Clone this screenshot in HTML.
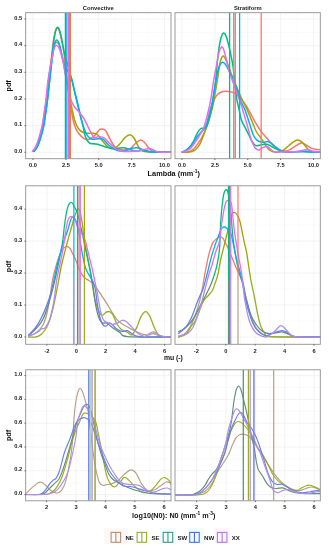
<!DOCTYPE html><html><head><meta charset="utf-8"><title>pdf</title><style>html,body{margin:0;padding:0;background:#fff}svg{display:block}</style></head><body><svg width="329" height="550" viewBox="0 0 329 550">
<rect width="329" height="550" fill="#fff"/>
<clipPath id="cp00"><rect x="25.70" y="12.70" width="145.30" height="146.00"/></clipPath>
<g clip-path="url(#cp00)">
<path d="M16.56 12.70V158.70M49.44 12.70V158.70M82.31 12.70V158.70M115.19 12.70V158.70M148.06 12.70V158.70M180.94 12.70V158.70M25.70 165.63H171.00M25.70 138.97H171.00M25.70 112.31H171.00M25.70 85.65H171.00M25.70 58.99H171.00M25.70 32.33H171.00M25.70 5.67H171.00" stroke="#f4f4f4" stroke-width="0.5" fill="none"/>
<path d="M33.00 12.70V158.70M65.88 12.70V158.70M98.75 12.70V158.70M131.62 12.70V158.70M164.50 12.70V158.70M25.70 152.30H171.00M25.70 125.64H171.00M25.70 98.98H171.00M25.70 72.32H171.00M25.70 45.66H171.00M25.70 19.00H171.00" stroke="#ededed" stroke-width="0.65" fill="none"/>
<path d="M33.00 151.20 C33.37 150.77 34.42 149.87 35.20 148.60 C35.98 147.33 36.87 145.77 37.70 143.60 C38.53 141.43 39.37 138.53 40.20 135.60 C41.03 132.67 41.95 129.77 42.70 126.00 C43.45 122.23 44.07 117.33 44.70 113.00 C45.33 108.67 45.83 105.50 46.50 100.00 C47.17 94.50 47.90 86.83 48.70 80.00 C49.50 73.17 50.55 65.27 51.30 59.00 C52.05 52.73 52.60 46.73 53.20 42.40 C53.80 38.07 54.40 35.23 54.90 33.00 C55.40 30.77 55.80 29.83 56.20 29.00 C56.60 28.17 56.90 27.97 57.30 28.00 C57.70 28.03 58.15 28.33 58.60 29.20 C59.05 30.07 59.43 30.97 60.00 33.20 C60.57 35.43 61.33 39.22 62.00 42.60 C62.67 45.98 63.17 47.27 64.00 53.50 C64.83 59.73 65.78 70.42 67.00 80.00 C68.22 89.58 70.03 103.42 71.30 111.00 C72.57 118.58 73.45 121.87 74.60 125.50 C75.75 129.13 76.68 130.67 78.20 132.80 C79.72 134.93 81.87 137.23 83.70 138.30 C85.53 139.37 87.37 139.65 89.20 139.20 C91.03 138.75 93.03 137.13 94.70 135.60 C96.37 134.07 98.05 131.10 99.20 130.00 C100.35 128.90 100.80 129.08 101.60 129.00 C102.40 128.92 103.18 129.00 104.00 129.50 C104.82 130.00 105.33 130.08 106.50 132.00 C107.67 133.92 109.47 138.37 111.00 141.00 C112.53 143.63 114.20 146.37 115.70 147.80 C117.20 149.23 118.28 149.27 120.00 149.60 C121.72 149.93 124.17 150.07 126.00 149.80 C127.83 149.53 129.33 149.13 131.00 148.00 C132.67 146.87 134.35 144.33 136.00 143.00 C137.65 141.67 139.40 140.00 140.90 140.00 C142.40 140.00 143.65 141.58 145.00 143.00 C146.35 144.42 147.83 147.20 149.00 148.50 C150.17 149.80 150.67 150.20 152.00 150.80 C153.33 151.40 153.83 151.85 157.00 152.10 C160.17 152.35 168.67 152.27 171.00 152.30" stroke="#F8766D" stroke-width="1.50" fill="none" stroke-linejoin="round" stroke-linecap="round"/>
<path d="M32.80 151.20 C33.17 150.77 34.22 149.87 35.00 148.60 C35.78 147.33 36.67 145.77 37.50 143.60 C38.33 141.43 39.17 138.53 40.00 135.60 C40.83 132.67 41.75 129.77 42.50 126.00 C43.25 122.23 43.87 117.33 44.50 113.00 C45.13 108.67 45.63 105.50 46.30 100.00 C46.97 94.50 47.65 86.67 48.50 80.00 C49.35 73.33 50.57 65.50 51.40 60.00 C52.23 54.50 52.87 49.80 53.50 47.00 C54.13 44.20 54.62 43.97 55.20 43.20 C55.78 42.43 56.42 42.27 57.00 42.40 C57.58 42.53 58.12 42.90 58.70 44.00 C59.28 45.10 59.73 46.00 60.50 49.00 C61.27 52.00 62.22 56.50 63.30 62.00 C64.38 67.50 65.67 74.75 67.00 82.00 C68.33 89.25 70.03 99.17 71.30 105.50 C72.57 111.83 73.45 116.20 74.60 120.00 C75.75 123.80 76.68 126.17 78.20 128.30 C79.72 130.43 81.57 131.98 83.70 132.80 C85.83 133.62 88.87 133.03 91.00 133.20 C93.13 133.37 94.83 132.80 96.50 133.80 C98.17 134.80 99.33 137.23 101.00 139.20 C102.67 141.17 104.88 144.05 106.50 145.60 C108.12 147.15 109.28 148.10 110.70 148.50 C112.12 148.90 113.45 148.78 115.00 148.00 C116.55 147.22 118.33 145.55 120.00 143.80 C121.67 142.05 123.33 139.00 125.00 137.50 C126.67 136.00 128.50 134.72 130.00 134.80 C131.50 134.88 132.50 135.85 134.00 138.00 C135.50 140.15 137.50 145.53 139.00 147.70 C140.50 149.87 141.17 150.28 143.00 151.00 C144.83 151.72 145.33 151.78 150.00 152.00 C154.67 152.22 167.50 152.25 171.00 152.30" stroke="#A3A500" stroke-width="1.50" fill="none" stroke-linejoin="round" stroke-linecap="round"/>
<path d="M34.00 151.20 C34.37 150.77 35.42 149.87 36.20 148.60 C36.98 147.33 37.87 145.77 38.70 143.60 C39.53 141.43 40.37 138.53 41.20 135.60 C42.03 132.67 42.95 129.77 43.70 126.00 C44.45 122.23 45.07 117.33 45.70 113.00 C46.33 108.67 46.83 105.50 47.50 100.00 C48.17 94.50 48.97 87.00 49.70 80.00 C50.43 73.00 51.25 64.27 51.90 58.00 C52.55 51.73 53.05 46.60 53.60 42.40 C54.15 38.20 54.73 35.10 55.20 32.80 C55.67 30.50 56.00 29.52 56.40 28.60 C56.80 27.68 57.18 27.30 57.60 27.30 C58.02 27.30 58.45 27.68 58.90 28.60 C59.35 29.52 59.72 30.50 60.30 32.80 C60.88 35.10 61.72 38.98 62.40 42.40 C63.08 45.82 63.47 49.37 64.40 53.30 C65.33 57.23 66.83 61.85 68.00 66.00 C69.17 70.15 70.07 72.87 71.40 78.20 C72.73 83.53 74.57 91.93 76.00 98.00 C77.43 104.07 78.83 109.93 80.00 114.60 C81.17 119.27 82.08 122.27 83.00 126.00 C83.92 129.73 84.47 134.18 85.50 137.00 C86.53 139.82 87.82 141.77 89.20 142.90 C90.58 144.03 92.13 143.50 93.80 143.80 C95.47 144.10 97.23 144.17 99.20 144.70 C101.17 145.23 103.30 146.35 105.60 147.00 C107.90 147.65 110.93 148.38 113.00 148.60 C115.07 148.82 116.23 148.45 118.00 148.30 C119.77 148.15 121.77 147.53 123.60 147.70 C125.43 147.87 126.85 148.75 129.00 149.30 C131.15 149.85 134.33 150.78 136.50 151.00 C138.67 151.22 140.08 150.52 142.00 150.60 C143.92 150.68 145.67 151.23 148.00 151.50 C150.33 151.77 152.17 152.07 156.00 152.20 C159.83 152.33 168.50 152.28 171.00 152.30" stroke="#00BF7D" stroke-width="1.50" fill="none" stroke-linejoin="round" stroke-linecap="round"/>
<path d="M34.00 151.20 C34.37 150.77 35.42 149.87 36.20 148.60 C36.98 147.33 37.87 145.77 38.70 143.60 C39.53 141.43 40.37 138.53 41.20 135.60 C42.03 132.67 42.95 129.77 43.70 126.00 C44.45 122.23 45.07 117.33 45.70 113.00 C46.33 108.67 46.83 105.50 47.50 100.00 C48.17 94.50 48.83 87.50 49.70 80.00 C50.57 72.50 51.95 60.75 52.70 55.00 C53.45 49.25 53.73 47.80 54.20 45.50 C54.67 43.20 55.07 42.12 55.50 41.20 C55.93 40.28 56.35 39.95 56.80 40.00 C57.25 40.05 57.67 40.42 58.20 41.50 C58.73 42.58 59.03 42.82 60.00 46.50 C60.97 50.18 62.10 58.32 64.00 63.60 C65.90 68.88 69.57 73.33 71.40 78.20 C73.23 83.07 73.78 87.93 75.00 92.80 C76.22 97.67 77.62 102.87 78.70 107.40 C79.78 111.93 80.67 116.67 81.50 120.00 C82.33 123.33 82.72 124.80 83.70 127.40 C84.68 130.00 86.02 133.63 87.40 135.60 C88.78 137.57 90.18 138.68 92.00 139.20 C93.82 139.72 96.48 138.70 98.30 138.70 C100.12 138.70 101.22 138.20 102.90 139.20 C104.58 140.20 106.43 143.02 108.40 144.70 C110.37 146.38 112.77 148.25 114.70 149.30 C116.63 150.35 118.12 150.80 120.00 151.00 C121.88 151.20 124.00 150.92 126.00 150.50 C128.00 150.08 130.25 148.97 132.00 148.50 C133.75 148.03 135.00 147.62 136.50 147.70 C138.00 147.78 139.42 148.53 141.00 149.00 C142.58 149.47 144.17 150.03 146.00 150.50 C147.83 150.97 149.67 151.50 152.00 151.80 C154.33 152.10 156.83 152.22 160.00 152.30 C163.17 152.38 169.17 152.30 171.00 152.30" stroke="#00B0F6" stroke-width="1.50" fill="none" stroke-linejoin="round" stroke-linecap="round"/>
<path d="M32.40 151.20 C32.77 150.77 33.82 149.87 34.60 148.60 C35.38 147.33 36.27 145.77 37.10 143.60 C37.93 141.43 38.77 138.53 39.60 135.60 C40.43 132.67 41.35 129.77 42.10 126.00 C42.85 122.23 43.47 117.33 44.10 113.00 C44.73 108.67 45.23 105.50 45.90 100.00 C46.57 94.50 47.25 86.17 48.10 80.00 C48.95 73.83 50.20 67.33 51.00 63.00 C51.80 58.67 52.40 56.33 52.90 54.00 C53.40 51.67 53.58 50.33 54.00 49.00 C54.42 47.67 54.93 46.60 55.40 46.00 C55.87 45.40 56.28 45.23 56.80 45.40 C57.32 45.57 57.88 45.90 58.50 47.00 C59.12 48.10 59.72 49.50 60.50 52.00 C61.28 54.50 62.28 57.67 63.20 62.00 C64.12 66.33 64.78 71.95 66.00 78.00 C67.22 84.05 69.13 93.55 70.50 98.30 C71.87 103.05 72.92 104.38 74.20 106.50 C75.48 108.62 76.62 109.05 78.20 111.00 C79.78 112.95 81.87 115.17 83.70 118.20 C85.53 121.23 87.52 126.00 89.20 129.20 C90.88 132.40 92.58 136.05 93.80 137.40 C95.02 138.75 95.60 137.45 96.50 137.30 C97.40 137.15 97.83 136.33 99.20 136.50 C100.57 136.67 102.87 137.08 104.70 138.30 C106.53 139.52 108.22 141.97 110.20 143.80 C112.18 145.63 114.63 148.05 116.60 149.30 C118.57 150.55 119.77 150.93 122.00 151.30 C124.23 151.67 127.33 151.55 130.00 151.50 C132.67 151.45 135.67 151.33 138.00 151.00 C140.33 150.67 142.10 149.92 144.00 149.50 C145.90 149.08 147.73 148.37 149.40 148.50 C151.07 148.63 152.40 149.72 154.00 150.30 C155.60 150.88 156.17 151.67 159.00 152.00 C161.83 152.33 169.00 152.25 171.00 152.30" stroke="#E76BF3" stroke-width="1.50" fill="none" stroke-linejoin="round" stroke-linecap="round"/>
<path d="M70.40 12.70V158.70" stroke="#e8802a" stroke-width="1.20"/>
<path d="M69.60 12.70V158.70" stroke="#dc8a1e" stroke-width="1.20"/>
<path d="M65.50 12.70V158.70" stroke="#00BF7D" stroke-width="1.50"/>
<path d="M66.90 12.70V158.70" stroke="#00B0F6" stroke-width="1.30"/>
<path d="M68.60 12.70V158.70" stroke="#E76BF3" stroke-width="1.20"/>
</g>
<rect x="25.70" y="12.70" width="145.30" height="146.00" fill="none" stroke="#909090" stroke-width="0.9"/>
<path d="M33.00 158.70v1.3" stroke="#333" stroke-width="0.7"/>
<text x="33.00" y="167.20" font-size="5.7" text-anchor="middle" fill="#1a1a1a" font-family="Liberation Sans, sans-serif" font-weight="bold">0.0</text>
<path d="M65.88 158.70v1.3" stroke="#333" stroke-width="0.7"/>
<text x="65.88" y="167.20" font-size="5.7" text-anchor="middle" fill="#1a1a1a" font-family="Liberation Sans, sans-serif" font-weight="bold">2.5</text>
<path d="M98.75 158.70v1.3" stroke="#333" stroke-width="0.7"/>
<text x="98.75" y="167.20" font-size="5.7" text-anchor="middle" fill="#1a1a1a" font-family="Liberation Sans, sans-serif" font-weight="bold">5.0</text>
<path d="M131.62 158.70v1.3" stroke="#333" stroke-width="0.7"/>
<text x="131.62" y="167.20" font-size="5.7" text-anchor="middle" fill="#1a1a1a" font-family="Liberation Sans, sans-serif" font-weight="bold">7.5</text>
<path d="M164.50 158.70v1.3" stroke="#333" stroke-width="0.7"/>
<text x="164.50" y="167.20" font-size="5.7" text-anchor="middle" fill="#1a1a1a" font-family="Liberation Sans, sans-serif" font-weight="bold">10.0</text>
<path d="M25.70 152.30h-1.3" stroke="#333" stroke-width="0.7"/>
<text x="22.20" y="152.90" font-size="5.7" text-anchor="end" fill="#1a1a1a" font-family="Liberation Sans, sans-serif" font-weight="bold">0.0</text>
<path d="M25.70 125.64h-1.3" stroke="#333" stroke-width="0.7"/>
<text x="22.20" y="126.24" font-size="5.7" text-anchor="end" fill="#1a1a1a" font-family="Liberation Sans, sans-serif" font-weight="bold">0.1</text>
<path d="M25.70 98.98h-1.3" stroke="#333" stroke-width="0.7"/>
<text x="22.20" y="99.58" font-size="5.7" text-anchor="end" fill="#1a1a1a" font-family="Liberation Sans, sans-serif" font-weight="bold">0.2</text>
<path d="M25.70 72.32h-1.3" stroke="#333" stroke-width="0.7"/>
<text x="22.20" y="72.92" font-size="5.7" text-anchor="end" fill="#1a1a1a" font-family="Liberation Sans, sans-serif" font-weight="bold">0.3</text>
<path d="M25.70 45.66h-1.3" stroke="#333" stroke-width="0.7"/>
<text x="22.20" y="46.26" font-size="5.7" text-anchor="end" fill="#1a1a1a" font-family="Liberation Sans, sans-serif" font-weight="bold">0.4</text>
<path d="M25.70 19.00h-1.3" stroke="#333" stroke-width="0.7"/>
<text x="22.20" y="19.60" font-size="5.7" text-anchor="end" fill="#1a1a1a" font-family="Liberation Sans, sans-serif" font-weight="bold">0.5</text>
<clipPath id="cp01"><rect x="175.00" y="12.70" width="145.30" height="146.00"/></clipPath>
<g clip-path="url(#cp01)">
<path d="M165.56 12.70V158.70M198.44 12.70V158.70M231.31 12.70V158.70M264.19 12.70V158.70M297.06 12.70V158.70M329.94 12.70V158.70M175.00 165.63H320.30M175.00 138.97H320.30M175.00 112.31H320.30M175.00 85.65H320.30M175.00 58.99H320.30M175.00 32.33H320.30M175.00 5.67H320.30" stroke="#f4f4f4" stroke-width="0.5" fill="none"/>
<path d="M182.00 12.70V158.70M214.88 12.70V158.70M247.75 12.70V158.70M280.62 12.70V158.70M313.50 12.70V158.70M175.00 152.30H320.30M175.00 125.64H320.30M175.00 98.98H320.30M175.00 72.32H320.30M175.00 45.66H320.30M175.00 19.00H320.30" stroke="#ededed" stroke-width="0.65" fill="none"/>
<path d="M182.30 152.20 C183.22 152.17 185.98 152.48 187.80 152.00 C189.62 151.52 191.53 150.67 193.20 149.30 C194.87 147.93 196.27 145.93 197.80 143.80 C199.33 141.67 201.03 139.05 202.40 136.50 C203.77 133.95 204.98 131.92 206.00 128.50 C207.02 125.08 207.78 119.25 208.50 116.00 C209.22 112.75 209.43 111.50 210.30 109.00 C211.17 106.50 212.52 103.40 213.70 101.00 C214.88 98.60 215.88 96.18 217.40 94.60 C218.92 93.02 220.98 92.02 222.80 91.50 C224.62 90.98 226.17 91.18 228.30 91.50 C230.43 91.82 233.77 92.57 235.60 93.40 C237.43 94.23 237.90 94.98 239.30 96.50 C240.70 98.02 242.28 100.00 244.00 102.50 C245.72 105.00 247.77 108.27 249.60 111.50 C251.43 114.73 253.02 118.50 255.00 121.90 C256.98 125.30 259.50 129.17 261.50 131.90 C263.50 134.63 265.03 136.02 267.00 138.30 C268.97 140.58 271.03 143.62 273.30 145.60 C275.57 147.58 278.48 149.30 280.60 150.20 C282.72 151.10 284.27 151.20 286.00 151.00 C287.73 150.80 289.50 149.77 291.00 149.00 C292.50 148.23 293.33 147.38 295.00 146.40 C296.67 145.42 299.32 143.45 301.00 143.10 C302.68 142.75 303.58 143.55 305.10 144.30 C306.62 145.05 308.42 146.77 310.10 147.60 C311.78 148.43 313.50 148.93 315.20 149.30 C316.90 149.67 319.45 149.72 320.30 149.80" stroke="#F8766D" stroke-width="1.50" fill="none" stroke-linejoin="round" stroke-linecap="round"/>
<path d="M182.30 152.20 C183.52 152.17 187.48 152.33 189.60 152.00 C191.72 151.67 193.33 151.42 195.00 150.20 C196.67 148.98 198.37 146.68 199.60 144.70 C200.83 142.72 201.48 140.58 202.40 138.30 C203.32 136.02 204.20 133.43 205.10 131.00 C206.00 128.57 206.88 126.43 207.80 123.70 C208.72 120.97 209.68 117.95 210.60 114.60 C211.52 111.25 212.17 109.37 213.30 103.60 C214.43 97.83 216.28 86.77 217.40 80.00 C218.52 73.23 219.10 66.98 220.00 63.00 C220.90 59.02 221.88 56.77 222.80 56.10 C223.72 55.43 224.58 57.42 225.50 59.00 C226.42 60.58 227.28 62.98 228.30 65.60 C229.32 68.22 230.12 70.93 231.60 74.70 C233.08 78.47 235.42 83.98 237.20 88.20 C238.98 92.42 240.68 96.52 242.30 100.00 C243.92 103.48 245.23 105.45 246.90 109.10 C248.57 112.75 250.78 118.25 252.30 121.90 C253.82 125.55 254.63 128.42 256.00 131.00 C257.37 133.58 259.13 135.42 260.50 137.40 C261.87 139.38 262.98 141.07 264.20 142.90 C265.42 144.73 266.43 146.95 267.80 148.40 C269.17 149.85 270.57 151.00 272.40 151.60 C274.23 152.20 276.97 152.25 278.80 152.00 C280.63 151.75 281.80 151.10 283.40 150.10 C285.00 149.10 286.73 147.38 288.40 146.00 C290.07 144.62 291.87 142.78 293.40 141.80 C294.93 140.82 296.20 140.10 297.60 140.10 C299.00 140.10 300.40 140.68 301.80 141.80 C303.20 142.92 304.62 145.27 306.00 146.80 C307.38 148.33 308.77 150.13 310.10 151.00 C311.43 151.87 312.30 151.80 314.00 152.00 C315.70 152.20 319.25 152.17 320.30 152.20" stroke="#A3A500" stroke-width="1.50" fill="none" stroke-linejoin="round" stroke-linecap="round"/>
<path d="M182.30 152.00 C183.22 151.55 185.98 150.97 187.80 149.30 C189.62 147.63 191.68 144.58 193.20 142.00 C194.72 139.42 195.68 136.00 196.90 133.80 C198.12 131.60 199.43 129.72 200.50 128.80 C201.57 127.88 202.38 128.53 203.30 128.30 C204.22 128.07 205.08 128.78 206.00 127.40 C206.92 126.02 207.85 123.40 208.80 120.00 C209.75 116.60 210.90 111.00 211.70 107.00 C212.50 103.00 212.93 100.50 213.60 96.00 C214.27 91.50 214.98 86.58 215.70 80.00 C216.42 73.42 217.18 62.83 217.90 56.50 C218.62 50.17 219.32 45.58 220.00 42.00 C220.68 38.42 221.37 36.48 222.00 35.00 C222.63 33.52 223.13 32.93 223.80 33.10 C224.47 33.27 225.10 33.62 226.00 36.00 C226.90 38.38 228.05 42.47 229.20 47.40 C230.35 52.33 231.68 57.27 232.90 65.60 C234.12 73.93 235.55 90.45 236.50 97.40 C237.45 104.35 237.78 103.53 238.60 107.30 C239.42 111.07 240.33 116.65 241.40 120.00 C242.47 123.35 243.78 124.95 245.00 127.40 C246.22 129.85 247.48 132.27 248.70 134.70 C249.92 137.13 251.08 140.18 252.30 142.00 C253.52 143.82 254.47 145.15 256.00 145.60 C257.53 146.05 259.67 144.93 261.50 144.70 C263.33 144.47 265.33 143.90 267.00 144.20 C268.67 144.50 270.00 145.72 271.50 146.50 C273.00 147.28 274.18 148.05 276.00 148.90 C277.82 149.75 280.07 151.08 282.40 151.60 C284.73 152.12 287.07 152.00 290.00 152.00 C292.93 152.00 297.00 151.60 300.00 151.60 C303.00 151.60 304.62 151.90 308.00 152.00 C311.38 152.10 318.25 152.17 320.30 152.20" stroke="#00BF7D" stroke-width="1.50" fill="none" stroke-linejoin="round" stroke-linecap="round"/>
<path d="M182.30 152.00 C182.92 151.70 184.48 151.27 186.00 150.20 C187.52 149.13 189.73 147.58 191.40 145.60 C193.07 143.62 194.48 140.43 196.00 138.30 C197.52 136.17 198.98 134.62 200.50 132.80 C202.02 130.98 203.68 130.03 205.10 127.40 C206.52 124.77 207.82 121.07 209.00 117.00 C210.18 112.93 211.37 107.17 212.20 103.00 C213.03 98.83 213.32 96.00 214.00 92.00 C214.68 88.00 215.58 82.83 216.30 79.00 C217.02 75.17 217.60 71.53 218.30 69.00 C219.00 66.47 219.75 64.92 220.50 63.80 C221.25 62.68 221.97 62.18 222.80 62.30 C223.63 62.42 224.43 63.05 225.50 64.50 C226.57 65.95 227.97 68.67 229.20 71.00 C230.43 73.33 231.68 75.67 232.90 78.50 C234.12 81.33 235.27 84.42 236.50 88.00 C237.73 91.58 238.88 96.33 240.30 100.00 C241.72 103.67 243.45 106.05 245.00 110.00 C246.55 113.95 248.23 119.58 249.60 123.70 C250.97 127.82 251.98 131.97 253.20 134.70 C254.42 137.43 255.37 138.83 256.90 140.10 C258.43 141.37 260.58 142.05 262.40 142.30 C264.22 142.55 266.28 141.42 267.80 141.60 C269.32 141.78 270.13 142.43 271.50 143.40 C272.87 144.37 274.33 146.12 276.00 147.40 C277.67 148.68 279.50 150.33 281.50 151.10 C283.50 151.87 285.25 151.90 288.00 152.00 C290.75 152.10 295.00 151.82 298.00 151.70 C301.00 151.58 303.67 151.25 306.00 151.30 C308.33 151.35 309.62 151.85 312.00 152.00 C314.38 152.15 318.92 152.17 320.30 152.20" stroke="#00B0F6" stroke-width="1.50" fill="none" stroke-linejoin="round" stroke-linecap="round"/>
<path d="M182.30 152.00 C182.92 151.83 184.63 151.60 186.00 151.00 C187.37 150.40 188.83 150.07 190.50 148.40 C192.17 146.73 194.33 143.43 196.00 141.00 C197.67 138.57 199.17 136.13 200.50 133.80 C201.83 131.47 202.83 130.22 204.00 127.00 C205.17 123.78 206.37 119.08 207.50 114.50 C208.63 109.92 209.77 105.25 210.80 99.50 C211.83 93.75 212.75 85.65 213.70 80.00 C214.65 74.35 215.65 70.10 216.50 65.60 C217.35 61.10 217.98 56.10 218.80 53.00 C219.62 49.90 220.62 47.67 221.40 47.00 C222.18 46.33 222.80 47.42 223.50 49.00 C224.20 50.58 224.60 52.67 225.60 56.50 C226.60 60.33 228.13 67.32 229.50 72.00 C230.87 76.68 232.52 80.88 233.80 84.60 C235.08 88.32 236.23 91.73 237.20 94.30 C238.17 96.87 238.45 96.62 239.60 100.00 C240.75 103.38 242.73 110.03 244.10 114.60 C245.47 119.17 246.58 123.15 247.80 127.40 C249.02 131.65 250.20 136.70 251.40 140.10 C252.60 143.50 253.78 146.12 255.00 147.80 C256.22 149.48 257.47 150.20 258.70 150.20 C259.93 150.20 261.02 148.42 262.40 147.80 C263.78 147.18 265.63 146.25 267.00 146.50 C268.37 146.75 269.40 148.45 270.60 149.30 C271.80 150.15 272.63 151.15 274.20 151.60 C275.77 152.05 277.37 151.97 280.00 152.00 C282.63 152.03 287.17 151.88 290.00 151.80 C292.83 151.72 294.77 151.75 297.00 151.50 C299.23 151.25 301.48 150.58 303.40 150.30 C305.32 150.02 306.90 149.65 308.50 149.80 C310.10 149.95 311.03 150.83 313.00 151.20 C314.97 151.57 319.08 151.87 320.30 152.00" stroke="#E76BF3" stroke-width="1.50" fill="none" stroke-linejoin="round" stroke-linecap="round"/>
<path d="M261.20 12.70V158.70" stroke="#F8766D" stroke-width="1.30"/>
<path d="M235.20 12.70V158.70" stroke="#A3A500" stroke-width="1.30"/>
<path d="M229.60 12.70V158.70" stroke="#00BF7D" stroke-width="1.30"/>
<path d="M239.60 12.70V158.70" stroke="#00B0F6" stroke-width="1.30"/>
<path d="M233.70 12.70V158.70" stroke="#E76BF3" stroke-width="1.30"/>
</g>
<rect x="175.00" y="12.70" width="145.30" height="146.00" fill="none" stroke="#909090" stroke-width="0.9"/>
<path d="M182.00 158.70v1.3" stroke="#333" stroke-width="0.7"/>
<text x="182.00" y="167.20" font-size="5.7" text-anchor="middle" fill="#1a1a1a" font-family="Liberation Sans, sans-serif" font-weight="bold">0.0</text>
<path d="M214.88 158.70v1.3" stroke="#333" stroke-width="0.7"/>
<text x="214.88" y="167.20" font-size="5.7" text-anchor="middle" fill="#1a1a1a" font-family="Liberation Sans, sans-serif" font-weight="bold">2.5</text>
<path d="M247.75 158.70v1.3" stroke="#333" stroke-width="0.7"/>
<text x="247.75" y="167.20" font-size="5.7" text-anchor="middle" fill="#1a1a1a" font-family="Liberation Sans, sans-serif" font-weight="bold">5.0</text>
<path d="M280.62 158.70v1.3" stroke="#333" stroke-width="0.7"/>
<text x="280.62" y="167.20" font-size="5.7" text-anchor="middle" fill="#1a1a1a" font-family="Liberation Sans, sans-serif" font-weight="bold">7.5</text>
<path d="M313.50 158.70v1.3" stroke="#333" stroke-width="0.7"/>
<text x="313.50" y="167.20" font-size="5.7" text-anchor="middle" fill="#1a1a1a" font-family="Liberation Sans, sans-serif" font-weight="bold">10.0</text>
<text transform="translate(11.0 85.90) rotate(-90)" font-size="7.2" text-anchor="middle" fill="#111" font-family="Liberation Sans, sans-serif" font-weight="bold">pdf</text>
<clipPath id="cp10"><rect x="25.70" y="185.80" width="145.30" height="158.50"/></clipPath>
<g clip-path="url(#cp10)">
<path d="M32.20 185.80V344.30M61.60 185.80V344.30M91.00 185.80V344.30M120.40 185.80V344.30M149.80 185.80V344.30M179.20 185.80V344.30M25.70 352.98H171.00M25.70 321.02H171.00M25.70 289.07H171.00M25.70 257.12H171.00M25.70 225.17H171.00M25.70 193.22H171.00" stroke="#f4f4f4" stroke-width="0.5" fill="none"/>
<path d="M46.90 185.80V344.30M76.30 185.80V344.30M105.70 185.80V344.30M135.10 185.80V344.30M164.50 185.80V344.30M25.70 337.00H171.00M25.70 305.05H171.00M25.70 273.10H171.00M25.70 241.15H171.00M25.70 209.20H171.00" stroke="#ededed" stroke-width="0.65" fill="none"/>
<clipPath id="cp10a"><rect x="0" y="0" width="329" height="280.00"/></clipPath>
<clipPath id="cp10b"><rect x="0" y="280.00" width="329" height="300"/></clipPath>
<g clip-path="url(#cp10a)">
<path d="M28.60 336.00 C29.83 335.50 33.60 334.83 36.00 333.00 C38.40 331.17 41.17 328.33 43.00 325.00 C44.83 321.67 45.83 317.67 47.00 313.00 C48.17 308.33 49.10 302.33 50.00 297.00 C50.90 291.67 51.40 286.17 52.40 281.00 C53.40 275.83 54.78 270.33 56.00 266.00 C57.22 261.67 58.48 257.88 59.70 255.00 C60.92 252.12 62.15 250.15 63.30 248.70 C64.45 247.25 65.48 246.33 66.60 246.30 C67.72 246.27 69.03 247.35 70.00 248.50 C70.97 249.65 71.57 251.58 72.40 253.20 C73.23 254.82 73.80 255.40 75.00 258.20 C76.20 261.00 78.08 266.80 79.60 270.00 C81.12 273.20 82.43 275.57 84.10 277.40 C85.77 279.23 87.78 279.63 89.60 281.00 C91.42 282.37 93.63 284.12 95.00 285.60 C96.37 287.08 95.92 287.05 97.80 289.90 C99.68 292.75 103.82 298.80 106.30 302.70 C108.78 306.60 110.58 310.12 112.70 313.30 C114.82 316.48 116.52 319.52 119.00 321.80 C121.48 324.08 124.93 325.47 127.60 327.00 C130.27 328.53 132.37 329.78 135.00 331.00 C137.63 332.22 140.90 333.67 143.40 334.30 C145.90 334.93 148.33 334.93 150.00 334.80 C151.67 334.67 151.73 333.30 153.40 333.50 C155.07 333.70 157.07 335.42 160.00 336.00 C162.93 336.58 169.17 336.83 171.00 337.00" stroke="#F8766D" stroke-width="1.30" fill="none" stroke-linejoin="round" stroke-linecap="round"/>
<path d="M28.60 337.00 C29.83 337.00 33.87 337.45 36.00 337.00 C38.13 336.55 39.58 335.97 41.40 334.30 C43.22 332.63 45.38 329.75 46.90 327.00 C48.42 324.25 49.28 321.77 50.50 317.80 C51.72 313.83 52.98 308.67 54.20 303.20 C55.42 297.73 56.75 290.53 57.80 285.00 C58.85 279.47 59.63 274.33 60.50 270.00 C61.37 265.67 61.83 263.75 63.00 259.00 C64.17 254.25 66.12 246.67 67.50 241.50 C68.88 236.33 70.17 232.02 71.30 228.00 C72.43 223.98 73.42 220.18 74.30 217.40 C75.18 214.62 75.90 212.73 76.60 211.30 C77.30 209.87 77.93 208.85 78.50 208.80 C79.07 208.75 79.55 209.57 80.00 211.00 C80.45 212.43 80.75 214.82 81.20 217.40 C81.65 219.98 82.20 222.73 82.70 226.50 C83.20 230.27 83.35 234.72 84.20 240.00 C85.05 245.28 86.75 252.73 87.80 258.20 C88.85 263.67 89.75 268.42 90.50 272.80 C91.25 277.18 91.55 279.97 92.30 284.50 C93.05 289.03 93.92 295.55 95.00 300.00 C96.08 304.45 97.63 308.63 98.80 311.20 C99.97 313.77 100.75 315.23 102.00 315.40 C103.25 315.57 105.05 312.83 106.30 312.20 C107.55 311.57 108.43 311.23 109.50 311.60 C110.57 311.97 111.45 312.33 112.70 314.40 C113.95 316.47 115.58 321.52 117.00 324.00 C118.42 326.48 119.43 327.90 121.20 329.30 C122.97 330.70 125.85 331.45 127.60 332.40 C129.35 333.35 130.18 335.80 131.70 335.00 C133.22 334.20 135.17 330.63 136.70 327.60 C138.23 324.57 139.37 319.45 140.90 316.80 C142.43 314.15 144.37 311.70 145.90 311.70 C147.43 311.70 148.70 314.15 150.10 316.80 C151.50 319.45 152.90 324.60 154.30 327.60 C155.70 330.60 156.97 333.27 158.50 334.80 C160.03 336.33 161.42 336.43 163.50 336.80 C165.58 337.17 169.75 336.97 171.00 337.00" stroke="#A3A500" stroke-width="1.30" fill="none" stroke-linejoin="round" stroke-linecap="round"/>
<path d="M28.60 335.60 C30.00 334.25 34.57 330.30 37.00 327.50 C39.43 324.70 41.25 322.85 43.20 318.80 C45.15 314.75 46.87 309.17 48.70 303.20 C50.53 297.23 52.45 290.20 54.20 283.00 C55.95 275.80 57.80 266.83 59.20 260.00 C60.60 253.17 61.80 247.08 62.60 242.00 C63.40 236.92 63.57 233.10 64.00 229.50 C64.43 225.90 64.75 223.43 65.20 220.40 C65.65 217.37 66.15 213.87 66.70 211.30 C67.25 208.73 67.78 206.48 68.50 205.00 C69.22 203.52 70.25 202.60 71.00 202.40 C71.75 202.20 72.45 203.08 73.00 203.80 C73.55 204.52 73.57 205.20 74.30 206.70 C75.03 208.20 76.28 209.25 77.40 212.80 C78.52 216.35 79.57 221.63 81.00 228.00 C82.43 234.37 84.72 245.05 86.00 251.00 C87.28 256.95 87.80 259.45 88.70 263.70 C89.60 267.95 90.65 272.55 91.40 276.50 C92.15 280.45 92.50 282.68 93.20 287.40 C93.90 292.12 94.67 299.78 95.60 304.80 C96.53 309.82 97.73 314.48 98.80 317.50 C99.87 320.52 100.75 322.00 102.00 322.90 C103.25 323.80 104.88 322.38 106.30 322.90 C107.72 323.42 109.08 324.93 110.50 326.00 C111.92 327.07 113.22 328.23 114.80 329.30 C116.38 330.37 117.87 331.17 120.00 332.40 C122.13 333.63 119.10 335.93 127.60 336.70 C136.10 337.47 163.77 336.95 171.00 337.00" stroke="#00BF7D" stroke-width="1.30" fill="none" stroke-linejoin="round" stroke-linecap="round"/>
<path d="M28.60 335.20 C29.83 333.83 33.87 329.90 36.00 327.00 C38.13 324.10 39.58 321.47 41.40 317.80 C43.22 314.13 45.38 308.88 46.90 305.00 C48.42 301.12 49.28 298.87 50.50 294.50 C51.72 290.13 52.98 284.15 54.20 278.80 C55.42 273.45 56.58 267.37 57.80 262.40 C59.02 257.43 60.25 253.23 61.50 249.00 C62.75 244.77 64.22 240.25 65.30 237.00 C66.38 233.75 67.25 231.88 68.00 229.50 C68.75 227.12 69.25 224.53 69.80 222.70 C70.35 220.87 70.80 219.45 71.30 218.50 C71.80 217.55 72.25 217.03 72.80 217.00 C73.35 216.97 73.97 217.35 74.60 218.30 C75.23 219.25 75.88 220.33 76.60 222.70 C77.32 225.07 78.25 229.12 78.90 232.50 C79.55 235.88 79.78 238.72 80.50 243.00 C81.22 247.28 82.28 253.83 83.20 258.20 C84.12 262.57 84.78 266.00 86.00 269.20 C87.22 272.40 89.30 275.27 90.50 277.40 C91.70 279.53 92.37 279.90 93.20 282.00 C94.03 284.10 94.87 286.67 95.50 290.00 C96.13 293.33 96.27 297.42 97.00 302.00 C97.73 306.58 98.88 313.67 99.90 317.50 C100.92 321.33 102.03 323.58 103.10 325.00 C104.17 326.42 105.23 326.35 106.30 326.00 C107.37 325.65 108.43 323.07 109.50 322.90 C110.57 322.73 111.45 323.93 112.70 325.00 C113.95 326.07 115.42 328.23 117.00 329.30 C118.58 330.37 120.43 331.17 122.20 331.40 C123.97 331.63 125.80 330.17 127.60 330.70 C129.40 331.23 130.88 333.60 133.00 334.60 C135.12 335.60 133.97 336.30 140.30 336.70 C146.63 337.10 165.88 336.95 171.00 337.00" stroke="#00B0F6" stroke-width="1.30" fill="none" stroke-linejoin="round" stroke-linecap="round"/>
<path d="M28.60 336.00 C29.50 335.67 32.17 334.90 34.00 334.00 C35.83 333.10 38.37 331.47 39.60 330.60 C40.83 329.73 40.50 329.25 41.40 328.80 C42.30 328.35 43.63 329.42 45.00 327.90 C46.37 326.38 48.37 322.90 49.60 319.70 C50.83 316.50 51.58 312.48 52.40 308.70 C53.22 304.92 53.75 301.98 54.50 297.00 C55.25 292.02 55.73 285.47 56.90 278.80 C58.07 272.13 60.25 263.47 61.50 257.00 C62.75 250.53 63.65 244.58 64.40 240.00 C65.15 235.42 65.48 232.52 66.00 229.50 C66.52 226.48 67.00 223.85 67.50 221.90 C68.00 219.95 68.50 218.68 69.00 217.80 C69.50 216.92 69.83 216.68 70.50 216.60 C71.17 216.52 72.25 216.80 73.00 217.30 C73.75 217.80 74.27 218.07 75.00 219.60 C75.73 221.13 76.40 224.35 77.40 226.50 C78.40 228.65 79.73 230.25 81.00 232.50 C82.27 234.75 83.72 236.32 85.00 240.00 C86.28 243.68 87.48 249.73 88.70 254.60 C89.92 259.47 91.25 264.63 92.30 269.20 C93.35 273.77 94.23 278.37 95.00 282.00 C95.77 285.63 96.43 288.62 96.90 291.00 C97.37 293.38 97.12 292.58 97.80 296.30 C98.48 300.02 99.95 309.23 101.00 313.30 C102.05 317.37 102.87 319.10 104.10 320.70 C105.33 322.30 106.97 322.28 108.40 322.90 C109.83 323.52 111.10 324.40 112.70 324.40 C114.30 324.40 116.42 323.58 118.00 322.90 C119.58 322.22 120.78 320.48 122.20 320.30 C123.62 320.12 124.90 320.67 126.50 321.80 C128.10 322.93 129.85 325.15 131.80 327.10 C133.75 329.05 136.07 331.97 138.20 333.50 C140.33 335.03 143.05 336.05 144.60 336.30 C146.15 336.55 146.03 335.75 147.50 335.00 C148.97 334.25 151.32 331.72 153.40 331.80 C155.48 331.88 158.07 334.63 160.00 335.50 C161.93 336.37 163.17 336.75 165.00 337.00 C166.83 337.25 170.00 337.00 171.00 337.00" stroke="#E76BF3" stroke-width="1.30" fill="none" stroke-linejoin="round" stroke-linecap="round"/>
<path d="M79.10 185.80V344.30" stroke="#F8766D" stroke-width="1.20"/>
<path d="M84.40 185.80V344.30" stroke="#A3A500" stroke-width="1.20"/>
<path d="M77.60 185.80V344.30" stroke="#00BF7D" stroke-width="1.20"/>
<path d="M73.90 185.80V344.30" stroke="#00B0F6" stroke-width="1.20"/>
<path d="M80.30 185.80V344.30" stroke="#E76BF3" stroke-width="1.20"/>
</g>
<g clip-path="url(#cp10b)">
<path d="M28.60 336.00 C29.83 335.50 33.60 334.83 36.00 333.00 C38.40 331.17 41.17 328.33 43.00 325.00 C44.83 321.67 45.83 317.67 47.00 313.00 C48.17 308.33 49.10 302.33 50.00 297.00 C50.90 291.67 51.40 286.17 52.40 281.00 C53.40 275.83 54.78 270.33 56.00 266.00 C57.22 261.67 58.48 257.88 59.70 255.00 C60.92 252.12 62.15 250.15 63.30 248.70 C64.45 247.25 65.48 246.33 66.60 246.30 C67.72 246.27 69.03 247.35 70.00 248.50 C70.97 249.65 71.57 251.58 72.40 253.20 C73.23 254.82 73.80 255.40 75.00 258.20 C76.20 261.00 78.08 266.80 79.60 270.00 C81.12 273.20 82.43 275.57 84.10 277.40 C85.77 279.23 87.78 279.63 89.60 281.00 C91.42 282.37 93.63 284.12 95.00 285.60 C96.37 287.08 95.92 287.05 97.80 289.90 C99.68 292.75 103.82 298.80 106.30 302.70 C108.78 306.60 110.58 310.12 112.70 313.30 C114.82 316.48 116.52 319.52 119.00 321.80 C121.48 324.08 124.93 325.47 127.60 327.00 C130.27 328.53 132.37 329.78 135.00 331.00 C137.63 332.22 140.90 333.67 143.40 334.30 C145.90 334.93 148.33 334.93 150.00 334.80 C151.67 334.67 151.73 333.30 153.40 333.50 C155.07 333.70 157.07 335.42 160.00 336.00 C162.93 336.58 169.17 336.83 171.00 337.00" stroke="#b5a083" stroke-width="1.30" fill="none" stroke-linejoin="round" stroke-linecap="round"/>
<path d="M28.60 337.00 C29.83 337.00 33.87 337.45 36.00 337.00 C38.13 336.55 39.58 335.97 41.40 334.30 C43.22 332.63 45.38 329.75 46.90 327.00 C48.42 324.25 49.28 321.77 50.50 317.80 C51.72 313.83 52.98 308.67 54.20 303.20 C55.42 297.73 56.75 290.53 57.80 285.00 C58.85 279.47 59.63 274.33 60.50 270.00 C61.37 265.67 61.83 263.75 63.00 259.00 C64.17 254.25 66.12 246.67 67.50 241.50 C68.88 236.33 70.17 232.02 71.30 228.00 C72.43 223.98 73.42 220.18 74.30 217.40 C75.18 214.62 75.90 212.73 76.60 211.30 C77.30 209.87 77.93 208.85 78.50 208.80 C79.07 208.75 79.55 209.57 80.00 211.00 C80.45 212.43 80.75 214.82 81.20 217.40 C81.65 219.98 82.20 222.73 82.70 226.50 C83.20 230.27 83.35 234.72 84.20 240.00 C85.05 245.28 86.75 252.73 87.80 258.20 C88.85 263.67 89.75 268.42 90.50 272.80 C91.25 277.18 91.55 279.97 92.30 284.50 C93.05 289.03 93.92 295.55 95.00 300.00 C96.08 304.45 97.63 308.63 98.80 311.20 C99.97 313.77 100.75 315.23 102.00 315.40 C103.25 315.57 105.05 312.83 106.30 312.20 C107.55 311.57 108.43 311.23 109.50 311.60 C110.57 311.97 111.45 312.33 112.70 314.40 C113.95 316.47 115.58 321.52 117.00 324.00 C118.42 326.48 119.43 327.90 121.20 329.30 C122.97 330.70 125.85 331.45 127.60 332.40 C129.35 333.35 130.18 335.80 131.70 335.00 C133.22 334.20 135.17 330.63 136.70 327.60 C138.23 324.57 139.37 319.45 140.90 316.80 C142.43 314.15 144.37 311.70 145.90 311.70 C147.43 311.70 148.70 314.15 150.10 316.80 C151.50 319.45 152.90 324.60 154.30 327.60 C155.70 330.60 156.97 333.27 158.50 334.80 C160.03 336.33 161.42 336.43 163.50 336.80 C165.58 337.17 169.75 336.97 171.00 337.00" stroke="#98ae20" stroke-width="1.30" fill="none" stroke-linejoin="round" stroke-linecap="round"/>
<path d="M28.60 335.60 C30.00 334.25 34.57 330.30 37.00 327.50 C39.43 324.70 41.25 322.85 43.20 318.80 C45.15 314.75 46.87 309.17 48.70 303.20 C50.53 297.23 52.45 290.20 54.20 283.00 C55.95 275.80 57.80 266.83 59.20 260.00 C60.60 253.17 61.80 247.08 62.60 242.00 C63.40 236.92 63.57 233.10 64.00 229.50 C64.43 225.90 64.75 223.43 65.20 220.40 C65.65 217.37 66.15 213.87 66.70 211.30 C67.25 208.73 67.78 206.48 68.50 205.00 C69.22 203.52 70.25 202.60 71.00 202.40 C71.75 202.20 72.45 203.08 73.00 203.80 C73.55 204.52 73.57 205.20 74.30 206.70 C75.03 208.20 76.28 209.25 77.40 212.80 C78.52 216.35 79.57 221.63 81.00 228.00 C82.43 234.37 84.72 245.05 86.00 251.00 C87.28 256.95 87.80 259.45 88.70 263.70 C89.60 267.95 90.65 272.55 91.40 276.50 C92.15 280.45 92.50 282.68 93.20 287.40 C93.90 292.12 94.67 299.78 95.60 304.80 C96.53 309.82 97.73 314.48 98.80 317.50 C99.87 320.52 100.75 322.00 102.00 322.90 C103.25 323.80 104.88 322.38 106.30 322.90 C107.72 323.42 109.08 324.93 110.50 326.00 C111.92 327.07 113.22 328.23 114.80 329.30 C116.38 330.37 117.87 331.17 120.00 332.40 C122.13 333.63 119.10 335.93 127.60 336.70 C136.10 337.47 163.77 336.95 171.00 337.00" stroke="#62907a" stroke-width="1.30" fill="none" stroke-linejoin="round" stroke-linecap="round"/>
<path d="M28.60 335.20 C29.83 333.83 33.87 329.90 36.00 327.00 C38.13 324.10 39.58 321.47 41.40 317.80 C43.22 314.13 45.38 308.88 46.90 305.00 C48.42 301.12 49.28 298.87 50.50 294.50 C51.72 290.13 52.98 284.15 54.20 278.80 C55.42 273.45 56.58 267.37 57.80 262.40 C59.02 257.43 60.25 253.23 61.50 249.00 C62.75 244.77 64.22 240.25 65.30 237.00 C66.38 233.75 67.25 231.88 68.00 229.50 C68.75 227.12 69.25 224.53 69.80 222.70 C70.35 220.87 70.80 219.45 71.30 218.50 C71.80 217.55 72.25 217.03 72.80 217.00 C73.35 216.97 73.97 217.35 74.60 218.30 C75.23 219.25 75.88 220.33 76.60 222.70 C77.32 225.07 78.25 229.12 78.90 232.50 C79.55 235.88 79.78 238.72 80.50 243.00 C81.22 247.28 82.28 253.83 83.20 258.20 C84.12 262.57 84.78 266.00 86.00 269.20 C87.22 272.40 89.30 275.27 90.50 277.40 C91.70 279.53 92.37 279.90 93.20 282.00 C94.03 284.10 94.87 286.67 95.50 290.00 C96.13 293.33 96.27 297.42 97.00 302.00 C97.73 306.58 98.88 313.67 99.90 317.50 C100.92 321.33 102.03 323.58 103.10 325.00 C104.17 326.42 105.23 326.35 106.30 326.00 C107.37 325.65 108.43 323.07 109.50 322.90 C110.57 322.73 111.45 323.93 112.70 325.00 C113.95 326.07 115.42 328.23 117.00 329.30 C118.58 330.37 120.43 331.17 122.20 331.40 C123.97 331.63 125.80 330.17 127.60 330.70 C129.40 331.23 130.88 333.60 133.00 334.60 C135.12 335.60 133.97 336.30 140.30 336.70 C146.63 337.10 165.88 336.95 171.00 337.00" stroke="#6b7df0" stroke-width="1.30" fill="none" stroke-linejoin="round" stroke-linecap="round"/>
<path d="M28.60 336.00 C29.50 335.67 32.17 334.90 34.00 334.00 C35.83 333.10 38.37 331.47 39.60 330.60 C40.83 329.73 40.50 329.25 41.40 328.80 C42.30 328.35 43.63 329.42 45.00 327.90 C46.37 326.38 48.37 322.90 49.60 319.70 C50.83 316.50 51.58 312.48 52.40 308.70 C53.22 304.92 53.75 301.98 54.50 297.00 C55.25 292.02 55.73 285.47 56.90 278.80 C58.07 272.13 60.25 263.47 61.50 257.00 C62.75 250.53 63.65 244.58 64.40 240.00 C65.15 235.42 65.48 232.52 66.00 229.50 C66.52 226.48 67.00 223.85 67.50 221.90 C68.00 219.95 68.50 218.68 69.00 217.80 C69.50 216.92 69.83 216.68 70.50 216.60 C71.17 216.52 72.25 216.80 73.00 217.30 C73.75 217.80 74.27 218.07 75.00 219.60 C75.73 221.13 76.40 224.35 77.40 226.50 C78.40 228.65 79.73 230.25 81.00 232.50 C82.27 234.75 83.72 236.32 85.00 240.00 C86.28 243.68 87.48 249.73 88.70 254.60 C89.92 259.47 91.25 264.63 92.30 269.20 C93.35 273.77 94.23 278.37 95.00 282.00 C95.77 285.63 96.43 288.62 96.90 291.00 C97.37 293.38 97.12 292.58 97.80 296.30 C98.48 300.02 99.95 309.23 101.00 313.30 C102.05 317.37 102.87 319.10 104.10 320.70 C105.33 322.30 106.97 322.28 108.40 322.90 C109.83 323.52 111.10 324.40 112.70 324.40 C114.30 324.40 116.42 323.58 118.00 322.90 C119.58 322.22 120.78 320.48 122.20 320.30 C123.62 320.12 124.90 320.67 126.50 321.80 C128.10 322.93 129.85 325.15 131.80 327.10 C133.75 329.05 136.07 331.97 138.20 333.50 C140.33 335.03 143.05 336.05 144.60 336.30 C146.15 336.55 146.03 335.75 147.50 335.00 C148.97 334.25 151.32 331.72 153.40 331.80 C155.48 331.88 158.07 334.63 160.00 335.50 C161.93 336.37 163.17 336.75 165.00 337.00 C166.83 337.25 170.00 337.00 171.00 337.00" stroke="#b08ee8" stroke-width="1.30" fill="none" stroke-linejoin="round" stroke-linecap="round"/>
<path d="M79.10 185.80V344.30" stroke="#b5a083" stroke-width="1.20"/>
<path d="M84.40 185.80V344.30" stroke="#98ae20" stroke-width="1.20"/>
<path d="M77.60 185.80V344.30" stroke="#62907a" stroke-width="1.20"/>
<path d="M73.90 185.80V344.30" stroke="#6b7df0" stroke-width="1.20"/>
<path d="M80.30 185.80V344.30" stroke="#b08ee8" stroke-width="1.20"/>
</g>
</g>
<rect x="25.70" y="185.80" width="145.30" height="158.50" fill="none" stroke="#909090" stroke-width="0.9"/>
<path d="M46.90 344.30v1.3" stroke="#333" stroke-width="0.7"/>
<text x="46.90" y="352.80" font-size="5.7" text-anchor="middle" fill="#1a1a1a" font-family="Liberation Sans, sans-serif" font-weight="bold">-2</text>
<path d="M76.30 344.30v1.3" stroke="#333" stroke-width="0.7"/>
<text x="76.30" y="352.80" font-size="5.7" text-anchor="middle" fill="#1a1a1a" font-family="Liberation Sans, sans-serif" font-weight="bold">0</text>
<path d="M105.70 344.30v1.3" stroke="#333" stroke-width="0.7"/>
<text x="105.70" y="352.80" font-size="5.7" text-anchor="middle" fill="#1a1a1a" font-family="Liberation Sans, sans-serif" font-weight="bold">2</text>
<path d="M135.10 344.30v1.3" stroke="#333" stroke-width="0.7"/>
<text x="135.10" y="352.80" font-size="5.7" text-anchor="middle" fill="#1a1a1a" font-family="Liberation Sans, sans-serif" font-weight="bold">4</text>
<path d="M164.50 344.30v1.3" stroke="#333" stroke-width="0.7"/>
<text x="164.50" y="352.80" font-size="5.7" text-anchor="middle" fill="#1a1a1a" font-family="Liberation Sans, sans-serif" font-weight="bold">6</text>
<path d="M25.70 337.00h-1.3" stroke="#333" stroke-width="0.7"/>
<text x="22.20" y="337.60" font-size="5.7" text-anchor="end" fill="#1a1a1a" font-family="Liberation Sans, sans-serif" font-weight="bold">0.0</text>
<path d="M25.70 305.05h-1.3" stroke="#333" stroke-width="0.7"/>
<text x="22.20" y="305.65" font-size="5.7" text-anchor="end" fill="#1a1a1a" font-family="Liberation Sans, sans-serif" font-weight="bold">0.1</text>
<path d="M25.70 273.10h-1.3" stroke="#333" stroke-width="0.7"/>
<text x="22.20" y="273.70" font-size="5.7" text-anchor="end" fill="#1a1a1a" font-family="Liberation Sans, sans-serif" font-weight="bold">0.2</text>
<path d="M25.70 241.15h-1.3" stroke="#333" stroke-width="0.7"/>
<text x="22.20" y="241.75" font-size="5.7" text-anchor="end" fill="#1a1a1a" font-family="Liberation Sans, sans-serif" font-weight="bold">0.3</text>
<path d="M25.70 209.20h-1.3" stroke="#333" stroke-width="0.7"/>
<text x="22.20" y="209.80" font-size="5.7" text-anchor="end" fill="#1a1a1a" font-family="Liberation Sans, sans-serif" font-weight="bold">0.4</text>
<clipPath id="cp11"><rect x="175.00" y="185.80" width="145.30" height="158.50"/></clipPath>
<g clip-path="url(#cp11)">
<path d="M181.70 185.80V344.30M211.10 185.80V344.30M240.50 185.80V344.30M269.90 185.80V344.30M299.30 185.80V344.30M328.70 185.80V344.30M175.00 352.98H320.30M175.00 321.02H320.30M175.00 289.07H320.30M175.00 257.12H320.30M175.00 225.17H320.30M175.00 193.22H320.30" stroke="#f4f4f4" stroke-width="0.5" fill="none"/>
<path d="M196.40 185.80V344.30M225.80 185.80V344.30M255.20 185.80V344.30M284.60 185.80V344.30M314.00 185.80V344.30M175.00 337.00H320.30M175.00 305.05H320.30M175.00 273.10H320.30M175.00 241.15H320.30M175.00 209.20H320.30" stroke="#ededed" stroke-width="0.65" fill="none"/>
<clipPath id="cp11a"><rect x="0" y="0" width="329" height="280.00"/></clipPath>
<clipPath id="cp11b"><rect x="0" y="280.00" width="329" height="300"/></clipPath>
<g clip-path="url(#cp11a)">
<path d="M178.60 337.00 C179.50 336.55 182.17 335.82 184.00 334.30 C185.83 332.78 187.77 330.95 189.60 327.90 C191.43 324.85 193.33 320.42 195.00 316.00 C196.67 311.58 198.37 306.07 199.60 301.40 C200.83 296.73 201.48 292.77 202.40 288.00 C203.32 283.23 204.03 278.37 205.10 272.80 C206.17 267.23 207.58 259.47 208.80 254.60 C210.02 249.73 211.20 246.17 212.40 243.60 C213.60 241.03 214.65 240.37 216.00 239.20 C217.35 238.03 219.33 236.72 220.50 236.60 C221.67 236.48 222.23 237.52 223.00 238.50 C223.77 239.48 224.35 241.10 225.10 242.50 C225.85 243.90 226.35 244.35 227.50 246.90 C228.65 249.45 230.48 254.15 232.00 257.80 C233.52 261.45 235.23 265.77 236.60 268.80 C237.97 271.83 239.13 273.63 240.20 276.00 C241.27 278.37 242.03 279.33 243.00 283.00 C243.97 286.67 244.83 292.83 246.00 298.00 C247.17 303.17 248.62 309.50 250.00 314.00 C251.38 318.50 252.68 322.00 254.30 325.00 C255.92 328.00 257.75 330.23 259.70 332.00 C261.65 333.77 263.45 334.80 266.00 335.60 C268.55 336.40 265.95 336.57 275.00 336.80 C284.05 337.03 312.75 336.97 320.30 337.00" stroke="#F8766D" stroke-width="1.30" fill="none" stroke-linejoin="round" stroke-linecap="round"/>
<path d="M178.60 337.00 C179.83 336.55 183.87 336.13 186.00 334.30 C188.13 332.47 189.90 328.13 191.40 326.00 C192.90 323.87 193.78 323.77 195.00 321.50 C196.22 319.23 197.32 315.75 198.70 312.40 C200.08 309.05 201.62 304.30 203.30 301.40 C204.98 298.50 207.28 296.82 208.80 295.00 C210.32 293.18 211.50 292.07 212.40 290.50 C213.30 288.93 213.28 288.23 214.20 285.60 C215.12 282.97 216.83 278.97 217.90 274.70 C218.97 270.43 219.53 264.95 220.60 260.00 C221.67 255.05 223.10 249.90 224.30 245.00 C225.50 240.10 226.75 235.13 227.80 230.60 C228.85 226.07 229.82 220.65 230.60 217.80 C231.38 214.95 231.90 214.40 232.50 213.50 C233.10 212.60 233.53 212.32 234.20 212.40 C234.87 212.48 235.58 212.65 236.50 214.00 C237.42 215.35 238.78 217.67 239.70 220.50 C240.62 223.33 241.25 227.42 242.00 231.00 C242.75 234.58 243.43 238.43 244.20 242.00 C244.97 245.57 245.88 248.57 246.60 252.40 C247.32 256.23 247.85 260.73 248.50 265.00 C249.15 269.27 249.83 274.17 250.50 278.00 C251.17 281.83 251.87 284.95 252.50 288.00 C253.13 291.05 253.47 292.08 254.30 296.30 C255.13 300.52 256.43 308.35 257.50 313.30 C258.57 318.25 259.45 322.63 260.70 326.00 C261.95 329.37 263.40 331.72 265.00 333.50 C266.60 335.28 261.08 336.12 270.30 336.70 C279.52 337.28 311.97 336.95 320.30 337.00" stroke="#A3A500" stroke-width="1.30" fill="none" stroke-linejoin="round" stroke-linecap="round"/>
<path d="M178.60 331.50 C179.50 331.05 181.87 330.47 184.00 328.80 C186.13 327.13 189.25 324.23 191.40 321.50 C193.55 318.77 195.07 315.75 196.90 312.40 C198.73 309.05 200.88 304.35 202.40 301.40 C203.92 298.45 204.48 297.78 206.00 294.70 C207.52 291.62 209.83 287.15 211.50 282.90 C213.17 278.65 214.82 273.62 216.00 269.20 C217.18 264.78 217.97 260.43 218.60 256.40 C219.23 252.37 219.45 250.82 219.80 245.00 C220.15 239.18 220.27 228.47 220.70 221.50 C221.13 214.53 221.85 207.95 222.40 203.20 C222.95 198.45 223.40 195.27 224.00 193.00 C224.60 190.73 225.42 189.93 226.00 189.60 C226.58 189.27 227.03 189.77 227.50 191.00 C227.97 192.23 228.22 193.00 228.80 197.00 C229.38 201.00 230.30 208.17 231.00 215.00 C231.70 221.83 232.17 230.83 233.00 238.00 C233.83 245.17 235.00 252.33 236.00 258.00 C237.00 263.67 238.00 268.07 239.00 272.00 C240.00 275.93 240.83 277.27 242.00 281.60 C243.17 285.93 244.48 292.37 246.00 298.00 C247.52 303.63 249.35 310.90 251.10 315.40 C252.85 319.90 254.72 322.45 256.50 325.00 C258.28 327.55 259.85 329.28 261.80 330.70 C263.75 332.12 266.07 333.13 268.20 333.50 C270.33 333.87 272.13 333.15 274.60 332.90 C277.07 332.65 280.53 331.72 283.00 332.00 C285.47 332.28 287.07 333.80 289.40 334.60 C291.73 335.40 291.85 336.40 297.00 336.80 C302.15 337.20 316.42 336.97 320.30 337.00" stroke="#00BF7D" stroke-width="1.30" fill="none" stroke-linejoin="round" stroke-linecap="round"/>
<path d="M178.60 333.40 C179.83 332.33 183.87 329.60 186.00 327.00 C188.13 324.40 189.58 321.77 191.40 317.80 C193.22 313.83 195.38 307.08 196.90 303.20 C198.42 299.32 199.48 296.87 200.50 294.50 C201.52 292.13 201.92 292.30 203.00 289.00 C204.08 285.70 205.58 280.13 207.00 274.70 C208.42 269.27 210.12 261.43 211.50 256.40 C212.88 251.37 214.25 247.57 215.30 244.50 C216.35 241.43 216.93 240.32 217.80 238.00 C218.67 235.68 219.72 232.33 220.50 230.60 C221.28 228.87 221.88 228.20 222.50 227.60 C223.12 227.00 223.53 226.93 224.20 227.00 C224.87 227.07 225.73 227.40 226.50 228.00 C227.27 228.60 228.03 229.58 228.80 230.60 C229.57 231.62 230.25 231.38 231.10 234.10 C231.95 236.82 232.98 242.63 233.90 246.90 C234.82 251.17 235.55 255.45 236.60 259.70 C237.65 263.95 239.13 268.52 240.20 272.40 C241.27 276.28 242.07 278.32 243.00 283.00 C243.93 287.68 244.63 295.10 245.80 300.50 C246.97 305.90 248.58 311.15 250.00 315.40 C251.42 319.65 252.68 323.17 254.30 326.00 C255.92 328.83 257.75 330.80 259.70 332.40 C261.65 334.00 263.88 335.42 266.00 335.60 C268.12 335.78 269.73 334.32 272.40 333.50 C275.07 332.68 279.33 330.80 282.00 330.70 C284.67 330.60 286.27 331.90 288.40 332.90 C290.53 333.90 289.48 336.02 294.80 336.70 C300.12 337.38 316.05 336.95 320.30 337.00" stroke="#00B0F6" stroke-width="1.30" fill="none" stroke-linejoin="round" stroke-linecap="round"/>
<path d="M178.60 336.00 C180.13 335.57 185.37 334.90 187.80 333.40 C190.23 331.90 191.68 329.60 193.20 327.00 C194.72 324.40 195.68 321.13 196.90 317.80 C198.12 314.47 199.28 311.22 200.50 307.00 C201.72 302.78 202.82 297.88 204.20 292.50 C205.58 287.12 207.43 279.50 208.80 274.70 C210.17 269.90 211.20 267.65 212.40 263.70 C213.60 259.75 214.87 254.53 216.00 251.00 C217.13 247.47 218.28 246.83 219.20 242.50 C220.12 238.17 220.67 230.63 221.50 225.00 C222.33 219.37 223.45 212.53 224.20 208.70 C224.95 204.87 225.45 203.37 226.00 202.00 C226.55 200.63 226.92 200.70 227.50 200.50 C228.08 200.30 228.83 200.22 229.50 200.80 C230.17 201.38 230.87 200.55 231.50 204.00 C232.13 207.45 232.80 216.83 233.30 221.50 C233.80 226.17 234.10 228.98 234.50 232.00 C234.90 235.02 235.05 235.60 235.70 239.60 C236.35 243.60 237.48 250.83 238.40 256.00 C239.32 261.17 240.43 265.77 241.20 270.60 C241.97 275.43 242.40 280.10 243.00 285.00 C243.60 289.90 243.80 294.22 244.80 300.00 C245.80 305.78 247.58 314.82 249.00 319.70 C250.42 324.58 251.70 326.82 253.30 329.30 C254.90 331.78 256.48 333.32 258.60 334.60 C260.72 335.88 264.10 336.93 266.00 337.00 C267.90 337.07 268.57 335.93 270.00 335.00 C271.43 334.07 272.77 332.97 274.60 331.40 C276.43 329.83 279.05 325.85 281.00 325.60 C282.95 325.35 284.53 328.23 286.30 329.90 C288.07 331.57 289.65 334.42 291.60 335.60 C293.55 336.78 293.22 336.77 298.00 337.00 C302.78 337.23 316.58 337.00 320.30 337.00" stroke="#E76BF3" stroke-width="1.30" fill="none" stroke-linejoin="round" stroke-linecap="round"/>
<path d="M238.00 185.80V344.30" stroke="#F8766D" stroke-width="1.20"/>
<path d="M228.80 185.80V344.30" stroke="#A3A500" stroke-width="1.20"/>
<path d="M228.80 185.80V344.30" stroke="#00BF7D" stroke-width="1.80"/>
<path d="M229.70 185.80V344.30" stroke="#00B0F6" stroke-width="1.20"/>
<path d="M230.70 185.80V344.30" stroke="#E76BF3" stroke-width="1.20"/>
</g>
<g clip-path="url(#cp11b)">
<path d="M178.60 337.00 C179.50 336.55 182.17 335.82 184.00 334.30 C185.83 332.78 187.77 330.95 189.60 327.90 C191.43 324.85 193.33 320.42 195.00 316.00 C196.67 311.58 198.37 306.07 199.60 301.40 C200.83 296.73 201.48 292.77 202.40 288.00 C203.32 283.23 204.03 278.37 205.10 272.80 C206.17 267.23 207.58 259.47 208.80 254.60 C210.02 249.73 211.20 246.17 212.40 243.60 C213.60 241.03 214.65 240.37 216.00 239.20 C217.35 238.03 219.33 236.72 220.50 236.60 C221.67 236.48 222.23 237.52 223.00 238.50 C223.77 239.48 224.35 241.10 225.10 242.50 C225.85 243.90 226.35 244.35 227.50 246.90 C228.65 249.45 230.48 254.15 232.00 257.80 C233.52 261.45 235.23 265.77 236.60 268.80 C237.97 271.83 239.13 273.63 240.20 276.00 C241.27 278.37 242.03 279.33 243.00 283.00 C243.97 286.67 244.83 292.83 246.00 298.00 C247.17 303.17 248.62 309.50 250.00 314.00 C251.38 318.50 252.68 322.00 254.30 325.00 C255.92 328.00 257.75 330.23 259.70 332.00 C261.65 333.77 263.45 334.80 266.00 335.60 C268.55 336.40 265.95 336.57 275.00 336.80 C284.05 337.03 312.75 336.97 320.30 337.00" stroke="#b5a083" stroke-width="1.30" fill="none" stroke-linejoin="round" stroke-linecap="round"/>
<path d="M178.60 337.00 C179.83 336.55 183.87 336.13 186.00 334.30 C188.13 332.47 189.90 328.13 191.40 326.00 C192.90 323.87 193.78 323.77 195.00 321.50 C196.22 319.23 197.32 315.75 198.70 312.40 C200.08 309.05 201.62 304.30 203.30 301.40 C204.98 298.50 207.28 296.82 208.80 295.00 C210.32 293.18 211.50 292.07 212.40 290.50 C213.30 288.93 213.28 288.23 214.20 285.60 C215.12 282.97 216.83 278.97 217.90 274.70 C218.97 270.43 219.53 264.95 220.60 260.00 C221.67 255.05 223.10 249.90 224.30 245.00 C225.50 240.10 226.75 235.13 227.80 230.60 C228.85 226.07 229.82 220.65 230.60 217.80 C231.38 214.95 231.90 214.40 232.50 213.50 C233.10 212.60 233.53 212.32 234.20 212.40 C234.87 212.48 235.58 212.65 236.50 214.00 C237.42 215.35 238.78 217.67 239.70 220.50 C240.62 223.33 241.25 227.42 242.00 231.00 C242.75 234.58 243.43 238.43 244.20 242.00 C244.97 245.57 245.88 248.57 246.60 252.40 C247.32 256.23 247.85 260.73 248.50 265.00 C249.15 269.27 249.83 274.17 250.50 278.00 C251.17 281.83 251.87 284.95 252.50 288.00 C253.13 291.05 253.47 292.08 254.30 296.30 C255.13 300.52 256.43 308.35 257.50 313.30 C258.57 318.25 259.45 322.63 260.70 326.00 C261.95 329.37 263.40 331.72 265.00 333.50 C266.60 335.28 261.08 336.12 270.30 336.70 C279.52 337.28 311.97 336.95 320.30 337.00" stroke="#98ae20" stroke-width="1.30" fill="none" stroke-linejoin="round" stroke-linecap="round"/>
<path d="M178.60 331.50 C179.50 331.05 181.87 330.47 184.00 328.80 C186.13 327.13 189.25 324.23 191.40 321.50 C193.55 318.77 195.07 315.75 196.90 312.40 C198.73 309.05 200.88 304.35 202.40 301.40 C203.92 298.45 204.48 297.78 206.00 294.70 C207.52 291.62 209.83 287.15 211.50 282.90 C213.17 278.65 214.82 273.62 216.00 269.20 C217.18 264.78 217.97 260.43 218.60 256.40 C219.23 252.37 219.45 250.82 219.80 245.00 C220.15 239.18 220.27 228.47 220.70 221.50 C221.13 214.53 221.85 207.95 222.40 203.20 C222.95 198.45 223.40 195.27 224.00 193.00 C224.60 190.73 225.42 189.93 226.00 189.60 C226.58 189.27 227.03 189.77 227.50 191.00 C227.97 192.23 228.22 193.00 228.80 197.00 C229.38 201.00 230.30 208.17 231.00 215.00 C231.70 221.83 232.17 230.83 233.00 238.00 C233.83 245.17 235.00 252.33 236.00 258.00 C237.00 263.67 238.00 268.07 239.00 272.00 C240.00 275.93 240.83 277.27 242.00 281.60 C243.17 285.93 244.48 292.37 246.00 298.00 C247.52 303.63 249.35 310.90 251.10 315.40 C252.85 319.90 254.72 322.45 256.50 325.00 C258.28 327.55 259.85 329.28 261.80 330.70 C263.75 332.12 266.07 333.13 268.20 333.50 C270.33 333.87 272.13 333.15 274.60 332.90 C277.07 332.65 280.53 331.72 283.00 332.00 C285.47 332.28 287.07 333.80 289.40 334.60 C291.73 335.40 291.85 336.40 297.00 336.80 C302.15 337.20 316.42 336.97 320.30 337.00" stroke="#62907a" stroke-width="1.30" fill="none" stroke-linejoin="round" stroke-linecap="round"/>
<path d="M178.60 333.40 C179.83 332.33 183.87 329.60 186.00 327.00 C188.13 324.40 189.58 321.77 191.40 317.80 C193.22 313.83 195.38 307.08 196.90 303.20 C198.42 299.32 199.48 296.87 200.50 294.50 C201.52 292.13 201.92 292.30 203.00 289.00 C204.08 285.70 205.58 280.13 207.00 274.70 C208.42 269.27 210.12 261.43 211.50 256.40 C212.88 251.37 214.25 247.57 215.30 244.50 C216.35 241.43 216.93 240.32 217.80 238.00 C218.67 235.68 219.72 232.33 220.50 230.60 C221.28 228.87 221.88 228.20 222.50 227.60 C223.12 227.00 223.53 226.93 224.20 227.00 C224.87 227.07 225.73 227.40 226.50 228.00 C227.27 228.60 228.03 229.58 228.80 230.60 C229.57 231.62 230.25 231.38 231.10 234.10 C231.95 236.82 232.98 242.63 233.90 246.90 C234.82 251.17 235.55 255.45 236.60 259.70 C237.65 263.95 239.13 268.52 240.20 272.40 C241.27 276.28 242.07 278.32 243.00 283.00 C243.93 287.68 244.63 295.10 245.80 300.50 C246.97 305.90 248.58 311.15 250.00 315.40 C251.42 319.65 252.68 323.17 254.30 326.00 C255.92 328.83 257.75 330.80 259.70 332.40 C261.65 334.00 263.88 335.42 266.00 335.60 C268.12 335.78 269.73 334.32 272.40 333.50 C275.07 332.68 279.33 330.80 282.00 330.70 C284.67 330.60 286.27 331.90 288.40 332.90 C290.53 333.90 289.48 336.02 294.80 336.70 C300.12 337.38 316.05 336.95 320.30 337.00" stroke="#6b7df0" stroke-width="1.30" fill="none" stroke-linejoin="round" stroke-linecap="round"/>
<path d="M178.60 336.00 C180.13 335.57 185.37 334.90 187.80 333.40 C190.23 331.90 191.68 329.60 193.20 327.00 C194.72 324.40 195.68 321.13 196.90 317.80 C198.12 314.47 199.28 311.22 200.50 307.00 C201.72 302.78 202.82 297.88 204.20 292.50 C205.58 287.12 207.43 279.50 208.80 274.70 C210.17 269.90 211.20 267.65 212.40 263.70 C213.60 259.75 214.87 254.53 216.00 251.00 C217.13 247.47 218.28 246.83 219.20 242.50 C220.12 238.17 220.67 230.63 221.50 225.00 C222.33 219.37 223.45 212.53 224.20 208.70 C224.95 204.87 225.45 203.37 226.00 202.00 C226.55 200.63 226.92 200.70 227.50 200.50 C228.08 200.30 228.83 200.22 229.50 200.80 C230.17 201.38 230.87 200.55 231.50 204.00 C232.13 207.45 232.80 216.83 233.30 221.50 C233.80 226.17 234.10 228.98 234.50 232.00 C234.90 235.02 235.05 235.60 235.70 239.60 C236.35 243.60 237.48 250.83 238.40 256.00 C239.32 261.17 240.43 265.77 241.20 270.60 C241.97 275.43 242.40 280.10 243.00 285.00 C243.60 289.90 243.80 294.22 244.80 300.00 C245.80 305.78 247.58 314.82 249.00 319.70 C250.42 324.58 251.70 326.82 253.30 329.30 C254.90 331.78 256.48 333.32 258.60 334.60 C260.72 335.88 264.10 336.93 266.00 337.00 C267.90 337.07 268.57 335.93 270.00 335.00 C271.43 334.07 272.77 332.97 274.60 331.40 C276.43 329.83 279.05 325.85 281.00 325.60 C282.95 325.35 284.53 328.23 286.30 329.90 C288.07 331.57 289.65 334.42 291.60 335.60 C293.55 336.78 293.22 336.77 298.00 337.00 C302.78 337.23 316.58 337.00 320.30 337.00" stroke="#b08ee8" stroke-width="1.30" fill="none" stroke-linejoin="round" stroke-linecap="round"/>
<path d="M238.00 185.80V344.30" stroke="#b5a083" stroke-width="1.20"/>
<path d="M228.80 185.80V344.30" stroke="#98ae20" stroke-width="1.20"/>
<path d="M228.80 185.80V344.30" stroke="#62907a" stroke-width="1.80"/>
<path d="M229.70 185.80V344.30" stroke="#6b7df0" stroke-width="1.20"/>
<path d="M230.70 185.80V344.30" stroke="#b08ee8" stroke-width="1.20"/>
</g>
</g>
<rect x="175.00" y="185.80" width="145.30" height="158.50" fill="none" stroke="#909090" stroke-width="0.9"/>
<path d="M196.40 344.30v1.3" stroke="#333" stroke-width="0.7"/>
<text x="196.40" y="352.80" font-size="5.7" text-anchor="middle" fill="#1a1a1a" font-family="Liberation Sans, sans-serif" font-weight="bold">-2</text>
<path d="M225.80 344.30v1.3" stroke="#333" stroke-width="0.7"/>
<text x="225.80" y="352.80" font-size="5.7" text-anchor="middle" fill="#1a1a1a" font-family="Liberation Sans, sans-serif" font-weight="bold">0</text>
<path d="M255.20 344.30v1.3" stroke="#333" stroke-width="0.7"/>
<text x="255.20" y="352.80" font-size="5.7" text-anchor="middle" fill="#1a1a1a" font-family="Liberation Sans, sans-serif" font-weight="bold">2</text>
<path d="M284.60 344.30v1.3" stroke="#333" stroke-width="0.7"/>
<text x="284.60" y="352.80" font-size="5.7" text-anchor="middle" fill="#1a1a1a" font-family="Liberation Sans, sans-serif" font-weight="bold">4</text>
<path d="M314.00 344.30v1.3" stroke="#333" stroke-width="0.7"/>
<text x="314.00" y="352.80" font-size="5.7" text-anchor="middle" fill="#1a1a1a" font-family="Liberation Sans, sans-serif" font-weight="bold">6</text>
<text transform="translate(11.0 266.55) rotate(-90)" font-size="7.2" text-anchor="middle" fill="#111" font-family="Liberation Sans, sans-serif" font-weight="bold">pdf</text>
<clipPath id="cp20"><rect x="25.70" y="369.80" width="145.30" height="131.00"/></clipPath>
<g clip-path="url(#cp20)">
<path d="M31.90 369.80V500.80M61.30 369.80V500.80M90.70 369.80V500.80M120.10 369.80V500.80M149.50 369.80V500.80M178.90 369.80V500.80M25.70 506.50H171.00M25.70 482.70H171.00M25.70 458.90H171.00M25.70 435.10H171.00M25.70 411.30H171.00M25.70 387.50H171.00M25.70 363.70H171.00" stroke="#f4f4f4" stroke-width="0.5" fill="none"/>
<path d="M46.60 369.80V500.80M76.00 369.80V500.80M105.40 369.80V500.80M134.80 369.80V500.80M164.20 369.80V500.80M25.70 494.60H171.00M25.70 470.80H171.00M25.70 447.00H171.00M25.70 423.20H171.00M25.70 399.40H171.00M25.70 375.60H171.00" stroke="#ededed" stroke-width="0.65" fill="none"/>
<path d="M25.70 493.80 C26.80 492.73 30.28 489.22 32.30 487.40 C34.32 485.58 36.28 483.75 37.80 482.90 C39.32 482.05 40.20 482.00 41.40 482.30 C42.60 482.60 43.48 483.38 45.00 484.70 C46.52 486.02 48.67 488.83 50.50 490.20 C52.33 491.57 54.47 492.60 56.00 492.90 C57.53 493.20 58.48 492.92 59.70 492.00 C60.92 491.08 62.25 489.38 63.30 487.40 C64.35 485.42 65.08 483.43 66.00 480.10 C66.92 476.77 67.88 472.25 68.80 467.40 C69.72 462.55 70.83 456.07 71.50 451.00 C72.17 445.93 72.43 441.67 72.80 437.00 C73.17 432.33 73.37 427.58 73.70 423.00 C74.03 418.42 74.35 413.58 74.80 409.50 C75.25 405.42 75.82 401.58 76.40 398.50 C76.98 395.42 77.67 392.70 78.30 391.00 C78.93 389.30 79.58 388.38 80.20 388.30 C80.82 388.22 81.38 389.25 82.00 390.50 C82.62 391.75 83.13 393.32 83.90 395.80 C84.67 398.28 85.92 402.90 86.60 405.40 C87.28 407.90 87.30 406.05 88.00 410.80 C88.70 415.55 89.97 427.13 90.80 433.90 C91.63 440.67 92.27 446.07 93.00 451.40 C93.73 456.73 94.47 461.78 95.20 465.90 C95.93 470.02 96.68 473.32 97.40 476.10 C98.12 478.88 98.53 481.03 99.50 482.60 C100.47 484.17 101.98 485.18 103.20 485.50 C104.42 485.82 105.55 484.73 106.80 484.50 C108.05 484.27 108.77 484.82 110.70 484.10 C112.63 483.38 116.03 481.92 118.40 480.20 C120.77 478.48 122.75 475.52 124.90 473.80 C127.05 472.08 129.37 469.90 131.30 469.90 C133.23 469.90 134.77 471.43 136.50 473.80 C138.23 476.17 139.77 481.30 141.70 484.10 C143.63 486.90 145.95 489.65 148.10 490.60 C150.25 491.55 152.43 490.67 154.60 489.80 C156.77 488.93 159.17 486.70 161.10 485.40 C163.03 484.10 164.55 482.43 166.20 482.00 C167.85 481.57 170.20 482.67 171.00 482.80" stroke="#b5a083" stroke-width="1.15" fill="none" stroke-linejoin="round" stroke-linecap="round"/>
<path d="M25.70 494.50 C28.62 494.50 39.37 494.62 43.20 494.50 C47.03 494.38 46.87 494.52 48.70 493.80 C50.53 493.08 52.68 491.57 54.20 490.20 C55.72 488.83 56.58 487.58 57.80 485.60 C59.02 483.62 60.28 481.33 61.50 478.30 C62.72 475.27 63.88 471.35 65.10 467.40 C66.32 463.45 67.73 458.57 68.80 454.60 C69.87 450.63 70.38 447.53 71.50 443.60 C72.62 439.67 74.23 434.43 75.50 431.00 C76.77 427.57 78.15 425.22 79.10 423.00 C80.05 420.78 80.55 419.20 81.20 417.70 C81.85 416.20 82.43 414.80 83.00 414.00 C83.57 413.20 84.02 413.02 84.60 412.90 C85.18 412.78 85.77 413.03 86.50 413.30 C87.23 413.57 88.00 413.88 89.00 414.50 C90.00 415.12 91.35 415.70 92.50 417.00 C93.65 418.30 94.97 419.72 95.90 422.30 C96.83 424.88 97.25 428.38 98.10 432.50 C98.95 436.62 100.03 441.92 101.00 447.00 C101.97 452.08 102.93 458.15 103.90 463.00 C104.87 467.85 105.83 472.83 106.80 476.10 C107.77 479.37 108.73 480.90 109.70 482.60 C110.67 484.30 111.63 485.63 112.60 486.30 C113.57 486.97 114.52 487.08 115.50 486.60 C116.48 486.12 117.52 484.42 118.50 483.40 C119.48 482.38 120.55 481.47 121.40 480.50 C122.25 479.53 122.83 478.05 123.60 477.60 C124.37 477.15 125.13 477.37 126.00 477.80 C126.87 478.23 127.27 478.72 128.80 480.20 C130.33 481.68 132.83 484.67 135.20 486.70 C137.57 488.73 140.42 491.75 143.00 492.40 C145.58 493.05 148.55 491.77 150.70 490.60 C152.85 489.43 154.17 487.35 155.90 485.40 C157.63 483.45 159.60 480.20 161.10 478.90 C162.60 477.60 163.62 477.38 164.90 477.60 C166.18 477.82 167.78 479.05 168.80 480.20 C169.82 481.35 170.63 483.78 171.00 484.50" stroke="#98ae20" stroke-width="1.15" fill="none" stroke-linejoin="round" stroke-linecap="round"/>
<path d="M25.70 494.50 C28.02 494.50 36.38 494.77 39.60 494.50 C42.82 494.23 43.33 493.92 45.00 492.90 C46.67 491.88 48.07 489.92 49.60 488.40 C51.13 486.88 52.67 485.33 54.20 483.80 C55.73 482.27 57.43 481.33 58.80 479.20 C60.17 477.07 61.20 474.20 62.40 471.00 C63.60 467.80 64.78 463.95 66.00 460.00 C67.22 456.05 68.42 451.77 69.70 447.30 C70.98 442.83 72.57 437.17 73.70 433.20 C74.83 429.23 75.70 426.03 76.50 423.50 C77.30 420.97 77.83 419.65 78.50 418.00 C79.17 416.35 79.72 415.37 80.50 413.60 C81.28 411.83 82.45 408.83 83.20 407.40 C83.95 405.97 84.43 405.52 85.00 405.00 C85.57 404.48 85.93 404.13 86.60 404.30 C87.27 404.47 88.27 404.88 89.00 406.00 C89.73 407.12 90.33 408.67 91.00 411.00 C91.67 413.33 92.33 416.83 93.00 420.00 C93.67 423.17 94.17 426.17 95.00 430.00 C95.83 433.83 96.92 438.83 98.00 443.00 C99.08 447.17 100.40 451.67 101.50 455.00 C102.60 458.33 103.47 459.97 104.60 463.00 C105.73 466.03 106.97 470.53 108.30 473.20 C109.63 475.87 111.15 477.55 112.60 479.00 C114.05 480.45 115.43 480.98 117.00 481.90 C118.57 482.82 120.47 483.70 122.00 484.50 C123.53 485.30 124.22 485.82 126.20 486.70 C128.18 487.58 131.27 488.92 133.90 489.80 C136.53 490.68 139.32 491.38 142.00 492.00 C144.68 492.62 147.00 493.17 150.00 493.50 C153.00 493.83 156.50 493.88 160.00 494.00 C163.50 494.12 169.17 494.17 171.00 494.20" stroke="#62907a" stroke-width="1.15" fill="none" stroke-linejoin="round" stroke-linecap="round"/>
<path d="M25.70 494.50 C27.42 494.50 33.38 494.62 36.00 494.50 C38.62 494.38 39.73 494.67 41.40 493.80 C43.07 492.93 44.63 490.97 46.00 489.30 C47.37 487.63 48.38 485.33 49.60 483.80 C50.82 482.27 52.23 481.02 53.30 480.10 C54.37 479.18 55.08 479.52 56.00 478.30 C56.92 477.08 57.88 475.23 58.80 472.80 C59.72 470.37 60.53 467.17 61.50 463.70 C62.47 460.23 63.18 456.17 64.60 452.00 C66.02 447.83 68.33 443.03 70.00 438.70 C71.67 434.37 73.37 428.95 74.60 426.00 C75.83 423.05 76.42 422.20 77.40 421.00 C78.38 419.80 79.30 419.35 80.50 418.80 C81.70 418.25 83.35 417.62 84.60 417.70 C85.85 417.78 86.85 418.30 88.00 419.30 C89.15 420.30 90.18 420.78 91.50 423.70 C92.82 426.62 94.43 432.67 95.90 436.80 C97.37 440.93 98.85 444.62 100.30 448.50 C101.75 452.38 103.15 456.47 104.60 460.10 C106.05 463.73 107.42 467.40 109.00 470.30 C110.58 473.20 112.28 475.32 114.10 477.50 C115.92 479.68 118.20 481.93 119.90 483.40 C121.60 484.87 122.62 485.78 124.30 486.30 C125.98 486.82 127.97 486.22 130.00 486.50 C132.03 486.78 134.12 487.32 136.50 488.00 C138.88 488.68 141.28 489.75 144.30 490.60 C147.32 491.45 151.17 492.55 154.60 493.10 C158.03 493.65 162.17 493.75 164.90 493.90 C167.63 494.05 169.98 493.98 171.00 494.00" stroke="#6b7df0" stroke-width="1.15" fill="none" stroke-linejoin="round" stroke-linecap="round"/>
<path d="M25.70 494.60 C28.92 494.58 40.55 494.78 45.00 494.50 C49.45 494.22 50.27 493.77 52.40 492.90 C54.53 492.03 56.13 490.97 57.80 489.30 C59.47 487.63 61.03 485.03 62.40 482.90 C63.77 480.77 64.93 478.78 66.00 476.50 C67.07 474.22 67.88 472.25 68.80 469.20 C69.72 466.15 70.58 462.15 71.50 458.20 C72.42 454.25 73.55 449.20 74.30 445.50 C75.05 441.80 75.48 439.42 76.00 436.00 C76.52 432.58 77.00 427.83 77.40 425.00 C77.80 422.17 77.88 421.13 78.40 419.00 C78.92 416.87 79.85 414.12 80.50 412.20 C81.15 410.28 81.73 408.53 82.30 407.50 C82.87 406.47 83.28 406.08 83.90 406.00 C84.52 405.92 85.15 406.17 86.00 407.00 C86.85 407.83 87.70 408.75 89.00 411.00 C90.30 413.25 92.53 416.92 93.80 420.50 C95.07 424.08 95.40 428.08 96.60 432.50 C97.80 436.92 99.53 442.88 101.00 447.00 C102.47 451.12 103.95 454.05 105.40 457.20 C106.85 460.35 108.25 463.23 109.70 465.90 C111.15 468.57 112.63 470.90 114.10 473.20 C115.57 475.50 117.05 478.00 118.50 479.70 C119.95 481.40 120.67 482.58 122.80 483.40 C124.93 484.22 128.58 484.27 131.30 484.60 C134.02 484.93 136.52 484.40 139.10 485.40 C141.68 486.40 144.22 489.52 146.80 490.60 C149.38 491.68 152.00 492.20 154.60 491.90 C157.20 491.60 160.25 489.45 162.40 488.80 C164.55 488.15 166.07 487.80 167.50 488.00 C168.93 488.20 170.42 489.67 171.00 490.00" stroke="#b08ee8" stroke-width="1.15" fill="none" stroke-linejoin="round" stroke-linecap="round"/>
<path d="M95.10 369.80V500.80" stroke="#98ae20" stroke-width="1.50"/>
<path d="M90.60 369.80V500.80" stroke="#b4d4c0" stroke-width="1.20"/>
<path d="M88.80 369.80V500.80" stroke="#6b7df0" stroke-width="1.40"/>
<path d="M92.10 369.80V500.80" stroke="#b08ee8" stroke-width="1.30"/>
</g>
<rect x="25.70" y="369.80" width="145.30" height="131.00" fill="none" stroke="#909090" stroke-width="0.9"/>
<path d="M46.60 500.80v1.3" stroke="#333" stroke-width="0.7"/>
<text x="46.60" y="509.30" font-size="5.7" text-anchor="middle" fill="#1a1a1a" font-family="Liberation Sans, sans-serif" font-weight="bold">2</text>
<path d="M76.00 500.80v1.3" stroke="#333" stroke-width="0.7"/>
<text x="76.00" y="509.30" font-size="5.7" text-anchor="middle" fill="#1a1a1a" font-family="Liberation Sans, sans-serif" font-weight="bold">3</text>
<path d="M105.40 500.80v1.3" stroke="#333" stroke-width="0.7"/>
<text x="105.40" y="509.30" font-size="5.7" text-anchor="middle" fill="#1a1a1a" font-family="Liberation Sans, sans-serif" font-weight="bold">4</text>
<path d="M134.80 500.80v1.3" stroke="#333" stroke-width="0.7"/>
<text x="134.80" y="509.30" font-size="5.7" text-anchor="middle" fill="#1a1a1a" font-family="Liberation Sans, sans-serif" font-weight="bold">5</text>
<path d="M164.20 500.80v1.3" stroke="#333" stroke-width="0.7"/>
<text x="164.20" y="509.30" font-size="5.7" text-anchor="middle" fill="#1a1a1a" font-family="Liberation Sans, sans-serif" font-weight="bold">6</text>
<path d="M25.70 494.60h-1.3" stroke="#333" stroke-width="0.7"/>
<text x="22.20" y="495.20" font-size="5.7" text-anchor="end" fill="#1a1a1a" font-family="Liberation Sans, sans-serif" font-weight="bold">0.0</text>
<path d="M25.70 470.80h-1.3" stroke="#333" stroke-width="0.7"/>
<text x="22.20" y="471.40" font-size="5.7" text-anchor="end" fill="#1a1a1a" font-family="Liberation Sans, sans-serif" font-weight="bold">0.2</text>
<path d="M25.70 447.00h-1.3" stroke="#333" stroke-width="0.7"/>
<text x="22.20" y="447.60" font-size="5.7" text-anchor="end" fill="#1a1a1a" font-family="Liberation Sans, sans-serif" font-weight="bold">0.4</text>
<path d="M25.70 423.20h-1.3" stroke="#333" stroke-width="0.7"/>
<text x="22.20" y="423.80" font-size="5.7" text-anchor="end" fill="#1a1a1a" font-family="Liberation Sans, sans-serif" font-weight="bold">0.6</text>
<path d="M25.70 399.40h-1.3" stroke="#333" stroke-width="0.7"/>
<text x="22.20" y="400.00" font-size="5.7" text-anchor="end" fill="#1a1a1a" font-family="Liberation Sans, sans-serif" font-weight="bold">0.8</text>
<path d="M25.70 375.60h-1.3" stroke="#333" stroke-width="0.7"/>
<text x="22.20" y="376.20" font-size="5.7" text-anchor="end" fill="#1a1a1a" font-family="Liberation Sans, sans-serif" font-weight="bold">1.0</text>
<clipPath id="cp21"><rect x="175.00" y="369.80" width="145.30" height="131.00"/></clipPath>
<g clip-path="url(#cp21)">
<path d="M181.90 369.80V500.80M211.30 369.80V500.80M240.70 369.80V500.80M270.10 369.80V500.80M299.50 369.80V500.80M328.90 369.80V500.80M175.00 506.50H320.30M175.00 482.70H320.30M175.00 458.90H320.30M175.00 435.10H320.30M175.00 411.30H320.30M175.00 387.50H320.30M175.00 363.70H320.30" stroke="#f4f4f4" stroke-width="0.5" fill="none"/>
<path d="M196.60 369.80V500.80M226.00 369.80V500.80M255.40 369.80V500.80M284.80 369.80V500.80M314.20 369.80V500.80M175.00 494.60H320.30M175.00 470.80H320.30M175.00 447.00H320.30M175.00 423.20H320.30M175.00 399.40H320.30M175.00 375.60H320.30" stroke="#ededed" stroke-width="0.65" fill="none"/>
<path d="M175.00 494.70 C178.33 494.68 190.83 494.80 195.00 494.60 C199.17 494.40 198.32 494.07 200.00 493.50 C201.68 492.93 203.42 492.45 205.10 491.20 C206.78 489.95 208.57 487.97 210.10 486.00 C211.63 484.03 213.02 481.82 214.30 479.40 C215.58 476.98 216.32 474.18 217.80 471.50 C219.28 468.82 221.38 466.18 223.20 463.30 C225.02 460.42 227.17 457.25 228.70 454.20 C230.23 451.15 231.18 447.73 232.40 445.00 C233.62 442.27 234.82 439.50 236.00 437.80 C237.18 436.10 238.43 435.42 239.50 434.80 C240.57 434.18 241.32 434.10 242.40 434.10 C243.48 434.10 244.63 434.18 246.00 434.80 C247.37 435.42 249.10 436.27 250.60 437.80 C252.10 439.33 253.48 441.88 255.00 444.00 C256.52 446.12 258.37 448.42 259.70 450.50 C261.03 452.58 261.65 454.25 263.00 456.50 C264.35 458.75 265.95 461.15 267.80 464.00 C269.65 466.85 271.98 470.75 274.10 473.60 C276.22 476.45 278.37 478.97 280.50 481.10 C282.63 483.23 284.77 484.98 286.90 486.40 C289.03 487.82 291.17 488.90 293.30 489.60 C295.43 490.30 297.58 490.78 299.70 490.60 C301.82 490.42 304.05 489.10 306.00 488.50 C307.95 487.90 309.62 487.00 311.40 487.00 C313.18 487.00 315.22 488.00 316.70 488.50 C318.18 489.00 319.70 489.75 320.30 490.00" stroke="#b5a083" stroke-width="1.15" fill="none" stroke-linejoin="round" stroke-linecap="round"/>
<path d="M175.00 494.80 C179.17 494.78 194.85 495.05 200.00 494.70 C205.15 494.35 204.22 493.73 205.90 492.70 C207.58 491.67 208.78 490.45 210.10 488.50 C211.42 486.55 212.68 483.52 213.80 481.00 C214.92 478.48 215.82 476.07 216.80 473.40 C217.78 470.73 218.47 468.20 219.70 465.00 C220.93 461.80 222.85 458.13 224.20 454.20 C225.55 450.27 226.75 445.10 227.80 441.40 C228.85 437.70 229.73 434.23 230.50 432.00 C231.27 429.77 231.65 429.45 232.40 428.00 C233.15 426.55 234.10 424.38 235.00 423.30 C235.90 422.22 236.88 421.68 237.80 421.50 C238.72 421.32 239.58 421.73 240.50 422.20 C241.42 422.67 242.22 423.25 243.30 424.30 C244.38 425.35 245.80 426.97 247.00 428.50 C248.20 430.03 249.43 431.65 250.50 433.50 C251.57 435.35 252.17 437.07 253.40 439.60 C254.63 442.13 256.57 446.55 257.90 448.70 C259.23 450.85 260.22 450.82 261.40 452.50 C262.58 454.18 263.93 456.88 265.00 458.80 C266.07 460.72 266.47 461.35 267.80 464.00 C269.13 466.65 271.23 471.85 273.00 474.70 C274.77 477.55 276.43 479.27 278.40 481.10 C280.37 482.93 282.67 484.28 284.80 485.70 C286.93 487.12 289.25 488.78 291.20 489.60 C293.15 490.42 294.92 490.78 296.50 490.60 C298.08 490.42 299.12 489.32 300.70 488.50 C302.28 487.68 304.40 486.23 306.00 485.70 C307.60 485.17 308.70 485.02 310.30 485.30 C311.90 485.58 313.93 486.68 315.60 487.40 C317.27 488.12 319.52 489.23 320.30 489.60" stroke="#98ae20" stroke-width="1.15" fill="none" stroke-linejoin="round" stroke-linecap="round"/>
<path d="M175.00 494.80 C177.50 494.78 186.93 494.78 190.00 494.70 C193.07 494.62 191.73 494.92 193.40 494.30 C195.07 493.68 198.05 492.53 200.00 491.00 C201.95 489.47 203.70 487.05 205.10 485.10 C206.50 483.15 207.15 481.25 208.40 479.30 C209.65 477.35 211.33 474.93 212.60 473.40 C213.87 471.87 214.88 471.77 216.00 470.10 C217.12 468.43 218.22 466.08 219.30 463.40 C220.38 460.72 221.38 457.37 222.50 454.00 C223.62 450.63 224.82 447.03 226.00 443.20 C227.18 439.37 228.68 434.70 229.60 431.00 C230.52 427.30 230.97 424.50 231.50 421.00 C232.03 417.50 232.32 413.75 232.80 410.00 C233.28 406.25 233.83 401.83 234.40 398.50 C234.97 395.17 235.53 392.08 236.20 390.00 C236.87 387.92 237.68 386.25 238.40 386.00 C239.12 385.75 239.83 387.00 240.50 388.50 C241.17 390.00 241.48 391.47 242.40 395.00 C243.32 398.53 244.93 405.13 246.00 409.70 C247.07 414.27 247.88 418.02 248.80 422.40 C249.72 426.78 250.58 431.62 251.50 436.00 C252.42 440.38 253.53 444.70 254.30 448.70 C255.07 452.70 255.45 456.55 256.10 460.00 C256.75 463.45 257.15 466.78 258.20 469.40 C259.25 472.02 260.98 473.40 262.40 475.70 C263.82 478.00 265.27 481.25 266.70 483.20 C268.13 485.15 269.40 486.52 271.00 487.40 C272.60 488.28 274.35 488.42 276.30 488.50 C278.25 488.58 280.58 487.55 282.70 487.90 C284.82 488.25 286.88 489.78 289.00 490.60 C291.12 491.42 292.73 492.30 295.40 492.80 C298.07 493.30 300.85 493.47 305.00 493.60 C309.15 493.73 317.75 493.60 320.30 493.60" stroke="#62907a" stroke-width="1.15" fill="none" stroke-linejoin="round" stroke-linecap="round"/>
<path d="M175.00 494.80 C178.07 494.80 189.23 495.15 193.40 494.80 C197.57 494.45 198.05 493.75 200.00 492.70 C201.95 491.65 203.55 490.03 205.10 488.50 C206.65 486.97 207.90 485.32 209.30 483.50 C210.70 481.68 212.12 479.83 213.50 477.60 C214.88 475.37 216.28 472.78 217.60 470.10 C218.92 467.42 220.15 464.45 221.40 461.50 C222.65 458.55 224.03 455.75 225.10 452.40 C226.17 449.05 226.90 444.88 227.80 441.40 C228.70 437.92 229.70 434.15 230.50 431.50 C231.30 428.85 231.83 427.37 232.60 425.50 C233.37 423.63 234.23 422.05 235.10 420.30 C235.97 418.55 236.88 416.32 237.80 415.00 C238.72 413.68 239.65 412.40 240.60 412.40 C241.55 412.40 242.43 413.33 243.50 415.00 C244.57 416.67 245.52 419.95 247.00 422.40 C248.48 424.85 251.07 427.68 252.40 429.70 C253.73 431.72 254.08 432.55 255.00 434.50 C255.92 436.45 256.93 438.82 257.90 441.40 C258.87 443.98 259.68 446.58 260.80 450.00 C261.92 453.42 263.43 458.13 264.60 461.90 C265.77 465.67 266.57 469.40 267.80 472.60 C269.03 475.80 270.58 479.15 272.00 481.10 C273.42 483.05 274.70 483.77 276.30 484.30 C277.90 484.83 279.83 483.95 281.60 484.30 C283.37 484.65 284.95 485.35 286.90 486.40 C288.85 487.45 290.82 489.53 293.30 490.60 C295.78 491.67 298.97 492.62 301.80 492.80 C304.63 492.98 307.82 492.07 310.30 491.70 C312.78 491.33 315.03 490.72 316.70 490.60 C318.37 490.48 319.70 490.93 320.30 491.00" stroke="#6b7df0" stroke-width="1.15" fill="none" stroke-linejoin="round" stroke-linecap="round"/>
<path d="M175.00 494.80 C178.62 494.80 192.23 495.30 196.70 494.80 C201.17 494.30 200.12 493.13 201.80 491.80 C203.48 490.47 205.27 488.47 206.80 486.80 C208.33 485.13 209.75 483.75 211.00 481.80 C212.25 479.85 213.17 477.48 214.30 475.10 C215.43 472.72 216.68 470.27 217.80 467.50 C218.92 464.73 220.05 461.25 221.00 458.50 C221.95 455.75 222.67 453.75 223.50 451.00 C224.33 448.25 225.28 445.12 226.00 442.00 C226.72 438.88 227.23 434.97 227.80 432.30 C228.37 429.63 228.63 428.63 229.40 426.00 C230.17 423.37 231.57 419.00 232.40 416.50 C233.23 414.00 233.73 412.28 234.40 411.00 C235.07 409.72 235.72 408.97 236.40 408.80 C237.08 408.63 237.80 409.25 238.50 410.00 C239.20 410.75 239.68 411.80 240.60 413.30 C241.52 414.80 242.85 416.88 244.00 419.00 C245.15 421.12 246.40 423.78 247.50 426.00 C248.60 428.22 249.35 429.72 250.60 432.30 C251.85 434.88 253.38 437.98 255.00 441.50 C256.62 445.02 258.53 448.93 260.30 453.40 C262.07 457.87 264.00 463.87 265.60 468.30 C267.20 472.73 268.67 476.45 269.90 480.00 C271.13 483.55 271.77 487.47 273.00 489.60 C274.23 491.73 275.68 492.63 277.30 492.80 C278.92 492.97 280.75 491.13 282.70 490.60 C284.65 490.07 286.52 489.23 289.00 489.60 C291.48 489.97 294.40 492.17 297.60 492.80 C300.80 493.43 305.02 493.58 308.20 493.40 C311.38 493.22 314.68 491.93 316.70 491.70 C318.72 491.47 319.70 491.95 320.30 492.00" stroke="#b08ee8" stroke-width="1.15" fill="none" stroke-linejoin="round" stroke-linecap="round"/>
<path d="M273.70 369.80V500.80" stroke="#b5a083" stroke-width="1.20"/>
<path d="M248.40 369.80V500.80" stroke="#98ae20" stroke-width="1.20"/>
<path d="M243.30 369.80V500.80" stroke="#62907a" stroke-width="1.30"/>
<path d="M253.90 369.80V500.80" stroke="#6b7df0" stroke-width="1.40"/>
<path d="M250.20 369.80V500.80" stroke="#b08ee8" stroke-width="1.20"/>
</g>
<rect x="175.00" y="369.80" width="145.30" height="131.00" fill="none" stroke="#909090" stroke-width="0.9"/>
<path d="M196.60 500.80v1.3" stroke="#333" stroke-width="0.7"/>
<text x="196.60" y="509.30" font-size="5.7" text-anchor="middle" fill="#1a1a1a" font-family="Liberation Sans, sans-serif" font-weight="bold">2</text>
<path d="M226.00 500.80v1.3" stroke="#333" stroke-width="0.7"/>
<text x="226.00" y="509.30" font-size="5.7" text-anchor="middle" fill="#1a1a1a" font-family="Liberation Sans, sans-serif" font-weight="bold">3</text>
<path d="M255.40 500.80v1.3" stroke="#333" stroke-width="0.7"/>
<text x="255.40" y="509.30" font-size="5.7" text-anchor="middle" fill="#1a1a1a" font-family="Liberation Sans, sans-serif" font-weight="bold">4</text>
<path d="M284.80 500.80v1.3" stroke="#333" stroke-width="0.7"/>
<text x="284.80" y="509.30" font-size="5.7" text-anchor="middle" fill="#1a1a1a" font-family="Liberation Sans, sans-serif" font-weight="bold">5</text>
<path d="M314.20 500.80v1.3" stroke="#333" stroke-width="0.7"/>
<text x="314.20" y="509.30" font-size="5.7" text-anchor="middle" fill="#1a1a1a" font-family="Liberation Sans, sans-serif" font-weight="bold">6</text>
<text transform="translate(11.0 435.50) rotate(-90)" font-size="7.2" text-anchor="middle" fill="#111" font-family="Liberation Sans, sans-serif" font-weight="bold">pdf</text>
<text x="98.3" y="10.2" font-size="5.8" text-anchor="middle" fill="#1a1a1a" font-family="Liberation Sans, sans-serif" font-weight="bold">Convective</text>
<text x="247.8" y="10.2" font-size="5.8" text-anchor="middle" fill="#1a1a1a" font-family="Liberation Sans, sans-serif" font-weight="bold">Stratiform</text>
<text x="147.6" y="175.9" font-size="7.5" textLength="52.4" lengthAdjust="spacingAndGlyphs" fill="#111" font-family="Liberation Sans, sans-serif" font-weight="bold">Lambda (mm<tspan dy="-2.6" font-size="5">-1</tspan><tspan dy="2.6">)</tspan></text>
<text x="163.9" y="360" font-size="7.5" textLength="19" lengthAdjust="spacingAndGlyphs" fill="#111" font-family="Liberation Sans, sans-serif" font-weight="bold">mu (-)</text>
<text x="132.1" y="518" font-size="7.5" textLength="83.2" lengthAdjust="spacingAndGlyphs" fill="#111" font-family="Liberation Sans, sans-serif" font-weight="bold">log10(N0): N0 (mm<tspan dy="-2.6" font-size="5">-1</tspan><tspan dy="2.6"> m</tspan><tspan dy="-2.6" font-size="5">-3</tspan><tspan dy="2.6">)</tspan></text>
<rect x="104" y="528" width="24" height="16" fill="#fef7f8"/>
<rect x="111.10" y="532.4" width="9.5" height="9.9" fill="none" stroke="#b8906f" stroke-width="1.1"/>
<path d="M115.85 532.4v9.9" stroke="#b8906f" stroke-width="1.1"/>
<text x="125.40" y="539.8" font-size="6.1" fill="#1a1a1a" font-family="Liberation Sans, sans-serif" font-weight="bold">NE</text>
<rect x="137.10" y="532.4" width="9.5" height="9.9" fill="none" stroke="#98b020" stroke-width="1.1"/>
<path d="M141.85 532.4v9.9" stroke="#98b020" stroke-width="1.1"/>
<text x="151.40" y="539.8" font-size="6.1" fill="#1a1a1a" font-family="Liberation Sans, sans-serif" font-weight="bold">SE</text>
<rect x="160" y="528" width="16" height="16" fill="#f1fcfc"/>
<rect x="163.20" y="532.4" width="9.5" height="9.9" fill="none" stroke="#3f9a7c" stroke-width="1.1"/>
<path d="M167.95 532.4v9.9" stroke="#3f9a7c" stroke-width="1.1"/>
<text x="177.50" y="539.8" font-size="6.1" fill="#1a1a1a" font-family="Liberation Sans, sans-serif" font-weight="bold">SW</text>
<rect x="188" y="528" width="16" height="16" fill="#f1fbfe"/>
<rect x="189.70" y="532.4" width="9.5" height="9.9" fill="none" stroke="#4a6cf0" stroke-width="1.1"/>
<path d="M194.45 532.4v9.9" stroke="#4a6cf0" stroke-width="1.1"/>
<text x="204.00" y="539.8" font-size="6.1" fill="#1a1a1a" font-family="Liberation Sans, sans-serif" font-weight="bold">NW</text>
<rect x="214" y="528" width="16" height="16" fill="#fdf6fe"/>
<rect x="217.40" y="532.4" width="9.5" height="9.9" fill="none" stroke="#b474ea" stroke-width="1.1"/>
<path d="M222.15 532.4v9.9" stroke="#b474ea" stroke-width="1.1"/>
<text x="231.70" y="539.8" font-size="6.1" fill="#1a1a1a" font-family="Liberation Sans, sans-serif" font-weight="bold">XX</text>
</svg></body></html>
